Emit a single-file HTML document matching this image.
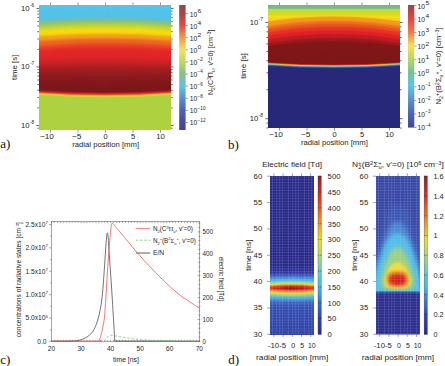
<!DOCTYPE html><html><head><meta charset="utf-8"><style>html,body{margin:0;padding:0;background:#fff;overflow:hidden}svg{display:block}text{font-family:"Liberation Sans",sans-serif}</style></head><body>
<svg width="445" height="366" viewBox="0 0 445 366">
<rect width="445" height="366" fill="#fff"/>
<defs><clipPath id="hm3"><rect x="39.0" y="5.0" width="132.00" height="125.00"/></clipPath></defs><g clip-path="url(#hm3)">
<rect x="39.0" y="5.0" width="132.00" height="125.00" fill="#54c4ea"/>
<path d="M38.0,8.00 Q105.0,3.00 172.0,8.00 V132.0 H38.0Z" fill="#54c4ea"/>
<path d="M38.0,8.50 Q105.0,3.50 172.0,8.50 V132.0 H38.0Z" fill="#54c4ea"/>
<path d="M38.0,9.00 Q105.0,4.00 172.0,9.00 V132.0 H38.0Z" fill="#54c4ea"/>
<path d="M38.0,9.50 Q105.0,4.50 172.0,9.50 V132.0 H38.0Z" fill="#54c4ea"/>
<path d="M38.0,10.00 Q105.0,5.00 172.0,10.00 V132.0 H38.0Z" fill="#54c4ea"/>
<path d="M38.0,10.50 Q105.0,5.50 172.0,10.50 V132.0 H38.0Z" fill="#53c3e9"/>
<path d="M38.0,11.00 Q105.0,6.00 172.0,11.00 V132.0 H38.0Z" fill="#53c3e9"/>
<path d="M38.0,11.50 Q105.0,6.50 172.0,11.50 V132.0 H38.0Z" fill="#53c3e9"/>
<path d="M38.0,12.00 Q105.0,7.00 172.0,12.00 V132.0 H38.0Z" fill="#53c3e9"/>
<path d="M38.0,12.50 Q105.0,7.50 172.0,12.50 V132.0 H38.0Z" fill="#53c3e9"/>
<path d="M38.0,13.00 Q105.0,8.00 172.0,13.00 V132.0 H38.0Z" fill="#53c3e9"/>
<path d="M38.0,13.50 Q105.0,8.50 172.0,13.50 V132.0 H38.0Z" fill="#53c3e9"/>
<path d="M38.0,14.00 Q105.0,9.00 172.0,14.00 V132.0 H38.0Z" fill="#53c3e9"/>
<path d="M38.0,14.50 Q105.0,9.50 172.0,14.50 V132.0 H38.0Z" fill="#53c3e9"/>
<path d="M38.0,15.00 Q105.0,10.00 172.0,15.00 V132.0 H38.0Z" fill="#53c3e9"/>
<path d="M38.0,15.50 Q105.0,10.50 172.0,15.50 V132.0 H38.0Z" fill="#53c3e9"/>
<path d="M38.0,16.00 Q105.0,11.00 172.0,16.00 V132.0 H38.0Z" fill="#52c2e8"/>
<path d="M38.0,16.50 Q105.0,11.50 172.0,16.50 V132.0 H38.0Z" fill="#52c2e8"/>
<path d="M38.0,17.00 Q105.0,12.00 172.0,17.00 V132.0 H38.0Z" fill="#52c2e8"/>
<path d="M38.0,17.50 Q105.0,12.50 172.0,17.50 V132.0 H38.0Z" fill="#52c2e8"/>
<path d="M38.0,18.00 Q105.0,13.00 172.0,18.00 V132.0 H38.0Z" fill="#52c2e8"/>
<path d="M38.0,18.50 Q105.0,13.50 172.0,18.50 V132.0 H38.0Z" fill="#53c2e6"/>
<path d="M38.0,19.00 Q105.0,14.00 172.0,19.00 V132.0 H38.0Z" fill="#5bc0d6"/>
<path d="M38.0,19.50 Q105.0,14.50 172.0,19.50 V132.0 H38.0Z" fill="#63bec7"/>
<path d="M38.0,20.00 Q105.0,15.00 172.0,20.00 V132.0 H38.0Z" fill="#68bfbd"/>
<path d="M38.0,20.50 Q105.0,15.50 172.0,20.50 V132.0 H38.0Z" fill="#6ebfb3"/>
<path d="M38.0,21.00 Q105.0,16.00 172.0,21.00 V132.0 H38.0Z" fill="#73c0a9"/>
<path d="M38.0,21.50 Q105.0,16.50 172.0,21.50 V132.0 H38.0Z" fill="#78c09f"/>
<path d="M38.0,22.00 Q105.0,17.00 172.0,22.00 V132.0 H38.0Z" fill="#7dc196"/>
<path d="M38.0,22.50 Q105.0,17.50 172.0,22.50 V132.0 H38.0Z" fill="#82c28c"/>
<path d="M38.0,23.00 Q105.0,18.00 172.0,23.00 V132.0 H38.0Z" fill="#87c382"/>
<path d="M38.0,23.50 Q105.0,18.50 172.0,23.50 V132.0 H38.0Z" fill="#8cc479"/>
<path d="M38.0,24.00 Q105.0,19.00 172.0,24.00 V132.0 H38.0Z" fill="#92c66f"/>
<path d="M38.0,24.50 Q105.0,19.50 172.0,24.50 V132.0 H38.0Z" fill="#99c866"/>
<path d="M38.0,25.00 Q105.0,20.00 172.0,25.00 V132.0 H38.0Z" fill="#9fca5c"/>
<path d="M38.0,25.50 Q105.0,20.50 172.0,25.50 V132.0 H38.0Z" fill="#a6cb53"/>
<path d="M38.0,26.00 Q105.0,21.00 172.0,26.00 V132.0 H38.0Z" fill="#adcd4b"/>
<path d="M38.0,26.50 Q105.0,21.50 172.0,26.50 V132.0 H38.0Z" fill="#b3cf43"/>
<path d="M38.0,27.00 Q105.0,22.00 172.0,27.00 V132.0 H38.0Z" fill="#bad13b"/>
<path d="M38.0,27.50 Q105.0,22.50 172.0,27.50 V132.0 H38.0Z" fill="#c1d334"/>
<path d="M38.0,28.00 Q105.0,23.00 172.0,28.00 V132.0 H38.0Z" fill="#c6d52e"/>
<path d="M38.0,28.50 Q105.0,23.50 172.0,28.50 V132.0 H38.0Z" fill="#ccd72a"/>
<path d="M38.0,29.00 Q105.0,24.00 172.0,29.00 V132.0 H38.0Z" fill="#d0d926"/>
<path d="M38.0,29.50 Q105.0,24.50 172.0,29.50 V132.0 H38.0Z" fill="#d6db22"/>
<path d="M38.0,30.00 Q105.0,25.00 172.0,30.00 V132.0 H38.0Z" fill="#dbdc1d"/>
<path d="M38.0,30.50 Q105.0,25.50 172.0,30.50 V132.0 H38.0Z" fill="#e2dc18"/>
<path d="M38.0,31.00 Q105.0,26.00 172.0,31.00 V132.0 H38.0Z" fill="#e9dc13"/>
<path d="M38.0,31.50 Q105.0,26.50 172.0,31.50 V132.0 H38.0Z" fill="#f0dc0e"/>
<path d="M38.0,32.00 Q105.0,27.00 172.0,32.00 V132.0 H38.0Z" fill="#f7dc09"/>
<path d="M38.0,32.50 Q105.0,27.50 172.0,32.50 V132.0 H38.0Z" fill="#f8db09"/>
<path d="M38.0,33.00 Q105.0,28.00 172.0,33.00 V132.0 H38.0Z" fill="#f8da0a"/>
<path d="M38.0,33.50 Q105.0,28.50 172.0,33.50 V132.0 H38.0Z" fill="#f8d90b"/>
<path d="M38.0,34.00 Q105.0,29.00 172.0,34.00 V132.0 H38.0Z" fill="#f8d80c"/>
<path d="M38.0,34.50 Q105.0,29.50 172.0,34.50 V132.0 H38.0Z" fill="#f8d40f"/>
<path d="M38.0,35.00 Q105.0,30.00 172.0,35.00 V132.0 H38.0Z" fill="#f8cc15"/>
<path d="M38.0,35.50 Q105.0,30.50 172.0,35.50 V132.0 H38.0Z" fill="#f7c319"/>
<path d="M38.0,36.00 Q105.0,31.00 172.0,36.00 V132.0 H38.0Z" fill="#f6b91b"/>
<path d="M38.0,36.50 Q105.0,31.50 172.0,36.50 V132.0 H38.0Z" fill="#f5af1e"/>
<path d="M38.0,37.00 Q105.0,32.00 172.0,37.00 V132.0 H38.0Z" fill="#f4a520"/>
<path d="M38.0,37.50 Q105.0,32.50 172.0,37.50 V132.0 H38.0Z" fill="#f4a220"/>
<path d="M38.0,38.00 Q105.0,33.00 172.0,38.00 V132.0 H38.0Z" fill="#f4a020"/>
<path d="M38.0,38.50 Q105.0,33.50 172.0,38.50 V132.0 H38.0Z" fill="#f39e20"/>
<path d="M38.0,39.00 Q105.0,34.00 172.0,39.00 V132.0 H38.0Z" fill="#f39c20"/>
<path d="M38.0,39.50 Q105.0,34.50 172.0,39.50 V132.0 H38.0Z" fill="#f39920"/>
<path d="M38.0,40.00 Q105.0,35.00 172.0,40.00 V132.0 H38.0Z" fill="#f28e20"/>
<path d="M38.0,40.50 Q105.0,35.50 172.0,40.50 V132.0 H38.0Z" fill="#f18421"/>
<path d="M38.0,41.00 Q105.0,36.00 172.0,41.00 V132.0 H38.0Z" fill="#f07b22"/>
<path d="M38.0,41.50 Q105.0,36.50 172.0,41.50 V132.0 H38.0Z" fill="#ef7323"/>
<path d="M38.0,42.00 Q105.0,37.00 172.0,42.00 V132.0 H38.0Z" fill="#ee6b24"/>
<path d="M38.0,42.50 Q105.0,37.50 172.0,42.50 V132.0 H38.0Z" fill="#ee6824"/>
<path d="M38.0,43.00 Q105.0,38.00 172.0,43.00 V132.0 H38.0Z" fill="#ed6724"/>
<path d="M38.0,43.50 Q105.0,38.50 172.0,43.50 V132.0 H38.0Z" fill="#ed6524"/>
<path d="M38.0,44.00 Q105.0,39.00 172.0,44.00 V132.0 H38.0Z" fill="#ed6324"/>
<path d="M38.0,44.50 Q105.0,39.50 172.0,44.50 V132.0 H38.0Z" fill="#ec6124"/>
<path d="M38.0,45.00 Q105.0,40.00 172.0,45.00 V132.0 H38.0Z" fill="#ec5d24"/>
<path d="M38.0,45.50 Q105.0,40.50 172.0,45.50 V132.0 H38.0Z" fill="#eb5425"/>
<path d="M38.0,46.00 Q105.0,41.00 172.0,46.00 V132.0 H38.0Z" fill="#ea4e26"/>
<path d="M38.0,46.50 Q105.0,41.50 172.0,46.50 V132.0 H38.0Z" fill="#e94b27"/>
<path d="M38.0,47.00 Q105.0,42.00 172.0,47.00 V132.0 H38.0Z" fill="#e94727"/>
<path d="M38.0,47.50 Q105.0,42.50 172.0,47.50 V132.0 H38.0Z" fill="#e94327"/>
<path d="M38.0,48.00 Q105.0,43.00 172.0,48.00 V132.0 H38.0Z" fill="#e84028"/>
<path d="M38.0,48.50 Q105.0,43.50 172.0,48.50 V132.0 H38.0Z" fill="#e83c28"/>
<path d="M38.0,49.00 Q105.0,44.00 172.0,49.00 V132.0 H38.0Z" fill="#e73828"/>
<path d="M38.0,49.50 Q105.0,44.50 172.0,49.50 V132.0 H38.0Z" fill="#e63528"/>
<path d="M38.0,50.00 Q105.0,45.00 172.0,50.00 V132.0 H38.0Z" fill="#e63128"/>
<path d="M38.0,50.50 Q105.0,45.50 172.0,50.50 V132.0 H38.0Z" fill="#e52e28"/>
<path d="M38.0,51.00 Q105.0,46.00 172.0,51.00 V132.0 H38.0Z" fill="#e42a28"/>
<path d="M38.0,51.50 Q105.0,46.50 172.0,51.50 V132.0 H38.0Z" fill="#e42828"/>
<path d="M38.0,52.00 Q105.0,47.00 172.0,52.00 V132.0 H38.0Z" fill="#e32828"/>
<path d="M38.0,52.50 Q105.0,47.50 172.0,52.50 V132.0 H38.0Z" fill="#e32828"/>
<path d="M38.0,53.00 Q105.0,48.00 172.0,53.00 V132.0 H38.0Z" fill="#e32828"/>
<path d="M38.0,53.50 Q105.0,48.50 172.0,53.50 V132.0 H38.0Z" fill="#e22729"/>
<path d="M38.0,54.00 Q105.0,49.00 172.0,54.00 V132.0 H38.0Z" fill="#e22729"/>
<path d="M38.0,54.50 Q105.0,49.50 172.0,54.50 V132.0 H38.0Z" fill="#e22729"/>
<path d="M38.0,55.00 Q105.0,50.00 172.0,55.00 V132.0 H38.0Z" fill="#e12729"/>
<path d="M38.0,55.50 Q105.0,50.50 172.0,55.50 V132.0 H38.0Z" fill="#e12729"/>
<path d="M38.0,56.00 Q105.0,51.00 172.0,56.00 V132.0 H38.0Z" fill="#e12729"/>
<path d="M38.0,56.50 Q105.0,51.50 172.0,56.50 V132.0 H38.0Z" fill="#e0262a"/>
<path d="M38.0,57.00 Q105.0,52.00 172.0,57.00 V132.0 H38.0Z" fill="#e0262a"/>
<path d="M38.0,57.50 Q105.0,52.50 172.0,57.50 V132.0 H38.0Z" fill="#e0262a"/>
<path d="M38.0,57.93 Q105.0,53.07 172.0,57.93 V132.0 H38.0Z" fill="#df262a"/>
<path d="M38.0,58.36 Q105.0,53.64 172.0,58.36 V132.0 H38.0Z" fill="#de262a"/>
<path d="M38.0,58.79 Q105.0,54.21 172.0,58.79 V132.0 H38.0Z" fill="#dc262a"/>
<path d="M38.0,59.22 Q105.0,54.78 172.0,59.22 V132.0 H38.0Z" fill="#da2629"/>
<path d="M38.0,59.65 Q105.0,55.35 172.0,59.65 V132.0 H38.0Z" fill="#d82529"/>
<path d="M38.0,60.08 Q105.0,55.92 172.0,60.08 V132.0 H38.0Z" fill="#d62528"/>
<path d="M38.0,60.51 Q105.0,56.49 172.0,60.51 V132.0 H38.0Z" fill="#d42528"/>
<path d="M38.0,60.94 Q105.0,57.06 172.0,60.94 V132.0 H38.0Z" fill="#d32528"/>
<path d="M38.0,61.37 Q105.0,57.63 172.0,61.37 V132.0 H38.0Z" fill="#d12528"/>
<path d="M38.0,61.80 Q105.0,58.20 172.0,61.80 V132.0 H38.0Z" fill="#cf2527"/>
<path d="M38.0,62.23 Q105.0,58.77 172.0,62.23 V132.0 H38.0Z" fill="#cd2427"/>
<path d="M38.0,62.66 Q105.0,59.34 172.0,62.66 V132.0 H38.0Z" fill="#cb2426"/>
<path d="M38.0,63.09 Q105.0,59.91 172.0,63.09 V132.0 H38.0Z" fill="#c92426"/>
<path d="M38.0,63.52 Q105.0,60.48 172.0,63.52 V132.0 H38.0Z" fill="#c72426"/>
<path d="M38.0,63.95 Q105.0,61.05 172.0,63.95 V132.0 H38.0Z" fill="#c42326"/>
<path d="M38.0,64.38 Q105.0,61.62 172.0,64.38 V132.0 H38.0Z" fill="#c12325"/>
<path d="M38.0,64.81 Q105.0,62.19 172.0,64.81 V132.0 H38.0Z" fill="#bf2325"/>
<path d="M38.0,65.24 Q105.0,62.76 172.0,65.24 V132.0 H38.0Z" fill="#bc2224"/>
<path d="M38.0,65.67 Q105.0,63.33 172.0,65.67 V132.0 H38.0Z" fill="#b92224"/>
<path d="M38.0,66.10 Q105.0,63.90 172.0,66.10 V132.0 H38.0Z" fill="#b72124"/>
<path d="M38.0,66.53 Q105.0,64.47 172.0,66.53 V132.0 H38.0Z" fill="#b42124"/>
<path d="M38.0,66.96 Q105.0,65.04 172.0,66.96 V132.0 H38.0Z" fill="#b12023"/>
<path d="M38.0,67.39 Q105.0,65.61 172.0,67.39 V132.0 H38.0Z" fill="#af2023"/>
<path d="M38.0,67.82 Q105.0,66.18 172.0,67.82 V132.0 H38.0Z" fill="#ac2022"/>
<path d="M38.0,68.25 Q105.0,66.75 172.0,68.25 V132.0 H38.0Z" fill="#a91f22"/>
<path d="M38.0,68.68 Q105.0,67.32 172.0,68.68 V132.0 H38.0Z" fill="#a71f22"/>
<path d="M38.0,69.11 Q105.0,67.89 172.0,69.11 V132.0 H38.0Z" fill="#a61f22"/>
<path d="M38.0,69.54 Q105.0,68.46 172.0,69.54 V132.0 H38.0Z" fill="#a41e21"/>
<path d="M38.0,69.97 Q105.0,69.03 172.0,69.97 V132.0 H38.0Z" fill="#a21e21"/>
<path d="M38.0,70.40 Q105.0,69.60 172.0,70.40 V132.0 H38.0Z" fill="#a11e21"/>
<path d="M38.0,70.83 Q105.0,70.17 172.0,70.83 V132.0 H38.0Z" fill="#9f1e21"/>
<path d="M38.0,71.26 Q105.0,70.74 172.0,71.26 V132.0 H38.0Z" fill="#9d1d20"/>
<path d="M38.0,71.69 Q105.0,71.31 172.0,71.69 V132.0 H38.0Z" fill="#9c1d20"/>
<path d="M38.0,72.12 Q105.0,71.88 172.0,72.12 V132.0 H38.0Z" fill="#9a1d20"/>
<path d="M38.0,72.55 Q105.0,72.45 172.0,72.55 V132.0 H38.0Z" fill="#991d20"/>
<path d="M38.0,72.98 Q105.0,73.02 172.0,72.98 V132.0 H38.0Z" fill="#971c1f"/>
<path d="M38.0,73.41 Q105.0,73.59 172.0,73.41 V132.0 H38.0Z" fill="#951c1f"/>
<path d="M38.0,73.84 Q105.0,74.16 172.0,73.84 V132.0 H38.0Z" fill="#941c1f"/>
<path d="M38.0,74.27 Q105.0,74.73 172.0,74.27 V132.0 H38.0Z" fill="#921c1f"/>
<path d="M38.0,74.70 Q105.0,75.30 172.0,74.70 V132.0 H38.0Z" fill="#901b1e"/>
<path d="M38.0,75.13 Q105.0,75.87 172.0,75.13 V132.0 H38.0Z" fill="#8f1b1e"/>
<path d="M38.0,75.56 Q105.0,76.44 172.0,75.56 V132.0 H38.0Z" fill="#8e1b1e"/>
<path d="M38.0,75.99 Q105.0,77.01 172.0,75.99 V132.0 H38.0Z" fill="#8d1b1e"/>
<path d="M38.0,76.42 Q105.0,77.58 172.0,76.42 V132.0 H38.0Z" fill="#8c1b1e"/>
<path d="M38.0,76.85 Q105.0,78.15 172.0,76.85 V132.0 H38.0Z" fill="#8b1b1e"/>
<path d="M38.0,77.28 Q105.0,78.72 172.0,77.28 V132.0 H38.0Z" fill="#8b1a1d"/>
<path d="M38.0,77.71 Q105.0,79.29 172.0,77.71 V132.0 H38.0Z" fill="#8a1a1d"/>
<path d="M38.0,78.14 Q105.0,79.86 172.0,78.14 V132.0 H38.0Z" fill="#891a1d"/>
<path d="M38.0,78.57 Q105.0,80.43 172.0,78.57 V132.0 H38.0Z" fill="#881a1d"/>
<path d="M38.0,79.00 Q105.0,81.00 172.0,79.00 V132.0 H38.0Z" fill="#881a1d"/>
<path d="M38.0,79.43 Q105.0,81.57 172.0,79.43 V132.0 H38.0Z" fill="#871a1d"/>
<path d="M38.0,79.86 Q105.0,82.14 172.0,79.86 V132.0 H38.0Z" fill="#861a1d"/>
<path d="M38.0,80.29 Q105.0,82.71 172.0,80.29 V132.0 H38.0Z" fill="#851a1d"/>
<path d="M38.0,80.72 Q105.0,83.28 172.0,80.72 V132.0 H38.0Z" fill="#85191c"/>
<path d="M38.0,81.15 Q105.0,83.85 172.0,81.15 V132.0 H38.0Z" fill="#84191c"/>
<path d="M38.0,81.58 Q105.0,84.42 172.0,81.58 V132.0 H38.0Z" fill="#83191c"/>
<path d="M38.0,82.01 Q105.0,84.99 172.0,82.01 V132.0 H38.0Z" fill="#82191c"/>
<path d="M38.0,82.44 Q105.0,85.56 172.0,82.44 V132.0 H38.0Z" fill="#82191c"/>
<path d="M38.0,82.87 Q105.0,86.13 172.0,82.87 V132.0 H38.0Z" fill="#81191c"/>
<path d="M38.0,83.30 Q105.0,86.70 172.0,83.30 V132.0 H38.0Z" fill="#80191c"/>
<path d="M38.0,83.73 Q105.0,87.27 172.0,83.73 V132.0 H38.0Z" fill="#7f191c"/>
<path d="M38.0,84.16 Q105.0,87.84 172.0,84.16 V132.0 H38.0Z" fill="#7f181b"/>
<path d="M38.0,84.59 Q105.0,88.41 172.0,84.59 V132.0 H38.0Z" fill="#7e181b"/>
<path d="M38.0,85.02 Q105.0,88.98 172.0,85.02 V132.0 H38.0Z" fill="#7d181b"/>
<path d="M38.0,85.45 Q105.0,89.55 172.0,85.45 V132.0 H38.0Z" fill="#7c181b"/>
<path d="M38.0,85.88 Q105.0,90.12 172.0,85.88 V132.0 H38.0Z" fill="#7c181b"/>
<path d="M38.0,86.31 Q105.0,90.69 172.0,86.31 V132.0 H38.0Z" fill="#7c181b"/>
<path d="M38.0,86.74 Q105.0,91.26 172.0,86.74 V132.0 H38.0Z" fill="#7c181b"/>
<path d="M38.0,87.17 Q105.0,91.83 172.0,87.17 V132.0 H38.0Z" fill="#7c181b"/>
<path d="M38.0,87.60 Q105.0,92.40 172.0,87.60 V132.0 H38.0Z" fill="#7c181b"/>
<path d="M38.0,88.10 Q105.0,92.90 172.0,88.10 V132.0 H38.0Z" fill="#7c181b"/>
<path d="M38.0,88.60 Q105.0,93.40 172.0,88.60 V132.0 H38.0Z" fill="#7c181b"/>
<path d="M38.0,89.10 Q105.0,93.90 172.0,89.10 V132.0 H38.0Z" fill="#7c181b"/>
<path d="M38.0,89.60 Q105.0,94.40 172.0,89.60 V132.0 H38.0Z" fill="#80181b"/>
<path d="M38.0,90.10 Q105.0,94.90 172.0,90.10 V132.0 H38.0Z" fill="#a61c1e"/>
<path d="M38.0,90.60 Q105.0,95.40 172.0,90.60 V132.0 H38.0Z" fill="#c92020"/>
<path d="M38.0,91.10 Q105.0,95.90 172.0,91.10 V132.0 H38.0Z" fill="#d82520"/>
<path d="M38.0,91.60 Q105.0,96.40 172.0,91.60 V132.0 H38.0Z" fill="#e72e20"/>
<path d="M38.0,92.10 Q105.0,96.90 172.0,92.10 V132.0 H38.0Z" fill="#ec5525"/>
<path d="M38.0,92.60 Q105.0,97.40 172.0,92.60 V132.0 H38.0Z" fill="#f1832a"/>
<path d="M38.0,93.10 Q105.0,97.90 172.0,93.10 V132.0 H38.0Z" fill="#f5c233"/>
<path d="M38.0,93.60 Q105.0,98.40 172.0,93.60 V132.0 H38.0Z" fill="#e6d637"/>
<path d="M38.0,94.10 Q105.0,98.90 172.0,94.10 V132.0 H38.0Z" fill="#cfd839"/>
<path d="M38.0,94.60 Q105.0,99.40 172.0,94.60 V132.0 H38.0Z" fill="#bdd53c"/>
<path d="M38.0,95.10 Q105.0,99.90 172.0,95.10 V132.0 H38.0Z" fill="#aed23f"/>
<path d="M38.0,95.60 Q105.0,100.40 172.0,95.60 V132.0 H38.0Z" fill="#aed23f"/>
<path d="M38.0,96.10 Q105.0,100.90 172.0,96.10 V132.0 H38.0Z" fill="#aed23f"/>
</g>
<line x1="37.40" y1="128.18" x2="39.00" y2="128.18" stroke="#333" stroke-width="0.75" />
<line x1="171.00" y1="128.18" x2="172.60" y2="128.18" stroke="#333" stroke-width="0.75" />
<line x1="36.40" y1="125.50" x2="39.00" y2="125.50" stroke="#333" stroke-width="0.75" />
<line x1="171.00" y1="125.50" x2="173.60" y2="125.50" stroke="#333" stroke-width="0.75" />
<line x1="37.40" y1="107.87" x2="39.00" y2="107.87" stroke="#333" stroke-width="0.75" />
<line x1="171.00" y1="107.87" x2="172.60" y2="107.87" stroke="#333" stroke-width="0.75" />
<line x1="37.40" y1="97.56" x2="39.00" y2="97.56" stroke="#333" stroke-width="0.75" />
<line x1="171.00" y1="97.56" x2="172.60" y2="97.56" stroke="#333" stroke-width="0.75" />
<line x1="37.40" y1="90.25" x2="39.00" y2="90.25" stroke="#333" stroke-width="0.75" />
<line x1="171.00" y1="90.25" x2="172.60" y2="90.25" stroke="#333" stroke-width="0.75" />
<line x1="37.40" y1="84.58" x2="39.00" y2="84.58" stroke="#333" stroke-width="0.75" />
<line x1="171.00" y1="84.58" x2="172.60" y2="84.58" stroke="#333" stroke-width="0.75" />
<line x1="37.40" y1="79.94" x2="39.00" y2="79.94" stroke="#333" stroke-width="0.75" />
<line x1="171.00" y1="79.94" x2="172.60" y2="79.94" stroke="#333" stroke-width="0.75" />
<line x1="37.40" y1="76.02" x2="39.00" y2="76.02" stroke="#333" stroke-width="0.75" />
<line x1="171.00" y1="76.02" x2="172.60" y2="76.02" stroke="#333" stroke-width="0.75" />
<line x1="37.40" y1="72.62" x2="39.00" y2="72.62" stroke="#333" stroke-width="0.75" />
<line x1="171.00" y1="72.62" x2="172.60" y2="72.62" stroke="#333" stroke-width="0.75" />
<line x1="37.40" y1="69.63" x2="39.00" y2="69.63" stroke="#333" stroke-width="0.75" />
<line x1="171.00" y1="69.63" x2="172.60" y2="69.63" stroke="#333" stroke-width="0.75" />
<line x1="36.40" y1="66.95" x2="39.00" y2="66.95" stroke="#333" stroke-width="0.75" />
<line x1="171.00" y1="66.95" x2="173.60" y2="66.95" stroke="#333" stroke-width="0.75" />
<line x1="37.40" y1="49.32" x2="39.00" y2="49.32" stroke="#333" stroke-width="0.75" />
<line x1="171.00" y1="49.32" x2="172.60" y2="49.32" stroke="#333" stroke-width="0.75" />
<line x1="37.40" y1="39.01" x2="39.00" y2="39.01" stroke="#333" stroke-width="0.75" />
<line x1="171.00" y1="39.01" x2="172.60" y2="39.01" stroke="#333" stroke-width="0.75" />
<line x1="37.40" y1="31.70" x2="39.00" y2="31.70" stroke="#333" stroke-width="0.75" />
<line x1="171.00" y1="31.70" x2="172.60" y2="31.70" stroke="#333" stroke-width="0.75" />
<line x1="37.40" y1="26.03" x2="39.00" y2="26.03" stroke="#333" stroke-width="0.75" />
<line x1="171.00" y1="26.03" x2="172.60" y2="26.03" stroke="#333" stroke-width="0.75" />
<line x1="37.40" y1="21.39" x2="39.00" y2="21.39" stroke="#333" stroke-width="0.75" />
<line x1="171.00" y1="21.39" x2="172.60" y2="21.39" stroke="#333" stroke-width="0.75" />
<line x1="37.40" y1="17.47" x2="39.00" y2="17.47" stroke="#333" stroke-width="0.75" />
<line x1="171.00" y1="17.47" x2="172.60" y2="17.47" stroke="#333" stroke-width="0.75" />
<line x1="37.40" y1="14.07" x2="39.00" y2="14.07" stroke="#333" stroke-width="0.75" />
<line x1="171.00" y1="14.07" x2="172.60" y2="14.07" stroke="#333" stroke-width="0.75" />
<line x1="37.40" y1="11.08" x2="39.00" y2="11.08" stroke="#333" stroke-width="0.75" />
<line x1="171.00" y1="11.08" x2="172.60" y2="11.08" stroke="#333" stroke-width="0.75" />
<line x1="36.40" y1="8.40" x2="39.00" y2="8.40" stroke="#333" stroke-width="0.75" />
<line x1="171.00" y1="8.40" x2="173.60" y2="8.40" stroke="#333" stroke-width="0.75" />
<text x="20.9" y="10.80" font-size="7.2" fill="#1e1e1e" textLength="8.6" lengthAdjust="spacingAndGlyphs">10</text>
<text x="29.9" y="6.60" font-size="5.4" fill="#1e1e1e" textLength="4.3" lengthAdjust="spacingAndGlyphs">-6</text>
<text x="20.9" y="69.35" font-size="7.2" fill="#1e1e1e" textLength="8.6" lengthAdjust="spacingAndGlyphs">10</text>
<text x="29.9" y="65.15" font-size="5.4" fill="#1e1e1e" textLength="4.3" lengthAdjust="spacingAndGlyphs">-7</text>
<text x="20.9" y="127.90" font-size="7.2" fill="#1e1e1e" textLength="8.6" lengthAdjust="spacingAndGlyphs">10</text>
<text x="29.9" y="123.70" font-size="5.4" fill="#1e1e1e" textLength="4.3" lengthAdjust="spacingAndGlyphs">-8</text>
<line x1="50.50" y1="2.40" x2="50.50" y2="5.00" stroke="#444" stroke-width="0.55" />
<line x1="50.50" y1="130.00" x2="50.50" y2="132.60" stroke="#444" stroke-width="0.55" />
<text x="54.00" y="139.10" font-size="7.5" text-anchor="end" fill="#1e1e1e" textLength="14.10" lengthAdjust="spacingAndGlyphs" >−10</text>
<line x1="78.00" y1="2.40" x2="78.00" y2="5.00" stroke="#444" stroke-width="0.55" />
<line x1="78.00" y1="130.00" x2="78.00" y2="132.60" stroke="#444" stroke-width="0.55" />
<text x="81.50" y="139.10" font-size="7.5" text-anchor="end" fill="#1e1e1e" textLength="9.60" lengthAdjust="spacingAndGlyphs" >−5</text>
<line x1="105.50" y1="2.40" x2="105.50" y2="5.00" stroke="#444" stroke-width="0.55" />
<line x1="105.50" y1="130.00" x2="105.50" y2="132.60" stroke="#444" stroke-width="0.55" />
<text x="105.50" y="139.10" font-size="7.5" text-anchor="middle" fill="#1e1e1e" >0</text>
<line x1="133.00" y1="2.40" x2="133.00" y2="5.00" stroke="#444" stroke-width="0.55" />
<line x1="133.00" y1="130.00" x2="133.00" y2="132.60" stroke="#444" stroke-width="0.55" />
<text x="133.00" y="139.10" font-size="7.5" text-anchor="middle" fill="#1e1e1e" >5</text>
<line x1="160.50" y1="2.40" x2="160.50" y2="5.00" stroke="#444" stroke-width="0.55" />
<line x1="160.50" y1="130.00" x2="160.50" y2="132.60" stroke="#444" stroke-width="0.55" />
<text x="160.50" y="139.10" font-size="7.5" text-anchor="middle" fill="#1e1e1e" textLength="8.60" lengthAdjust="spacingAndGlyphs" >10</text>
<text x="72.20" y="147.40" font-size="7.3" text-anchor="start" fill="#1e1e1e" textLength="66.90" lengthAdjust="spacingAndGlyphs" >radial position [mm]</text>
<text x="17.30" y="67.25" font-size="7.3" text-anchor="middle" fill="#1e1e1e" textLength="25.30" lengthAdjust="spacingAndGlyphs" transform="rotate(-90 17.30 67.25)" >time [s]</text>
<text x="0.30" y="148.10" font-size="13" text-anchor="start" fill="#111" style='font-family:"Liberation Serif", serif' >a)</text>
<defs><linearGradient id="cbA" x1="0" y1="0" x2="0" y2="1"><stop offset="0.000" stop-color="#8f4a4a"/><stop offset="0.064" stop-color="#a04646"/><stop offset="0.158" stop-color="#e04848"/><stop offset="0.262" stop-color="#f09a48"/><stop offset="0.360" stop-color="#f2e25a"/><stop offset="0.453" stop-color="#c4d462"/><stop offset="0.548" stop-color="#86c184"/><stop offset="0.650" stop-color="#5ec3e4"/><stop offset="0.746" stop-color="#5a8fcc"/><stop offset="0.842" stop-color="#4d66ae"/><stop offset="0.938" stop-color="#454e98"/><stop offset="1.000" stop-color="#414691"/></linearGradient></defs>
<rect x="179.2" y="5" width="6.4" height="125" fill="url(#cbA)"/>
<line x1="185.60" y1="13.50" x2="187.90" y2="13.50" stroke="#444" stroke-width="0.55" />
<text x="189.8" y="16.50" font-size="7.4" fill="#1e1e1e" textLength="7.5" lengthAdjust="spacingAndGlyphs">10</text>
<text x="197.6" y="12.90" font-size="5.0" fill="#1e1e1e" textLength="3.70" lengthAdjust="spacingAndGlyphs">6</text>
<line x1="185.60" y1="25.61" x2="187.90" y2="25.61" stroke="#444" stroke-width="0.55" />
<text x="189.8" y="28.61" font-size="7.4" fill="#1e1e1e" textLength="7.5" lengthAdjust="spacingAndGlyphs">10</text>
<text x="197.6" y="25.01" font-size="5.0" fill="#1e1e1e" textLength="3.70" lengthAdjust="spacingAndGlyphs">4</text>
<line x1="185.60" y1="37.72" x2="187.90" y2="37.72" stroke="#444" stroke-width="0.55" />
<text x="189.8" y="40.72" font-size="7.4" fill="#1e1e1e" textLength="7.5" lengthAdjust="spacingAndGlyphs">10</text>
<text x="197.6" y="37.12" font-size="5.0" fill="#1e1e1e" textLength="3.70" lengthAdjust="spacingAndGlyphs">2</text>
<line x1="185.60" y1="49.83" x2="187.90" y2="49.83" stroke="#444" stroke-width="0.55" />
<text x="189.8" y="52.83" font-size="7.4" fill="#1e1e1e" textLength="7.5" lengthAdjust="spacingAndGlyphs">10</text>
<text x="197.6" y="49.23" font-size="5.0" fill="#1e1e1e" textLength="3.70" lengthAdjust="spacingAndGlyphs">0</text>
<line x1="185.60" y1="61.94" x2="187.90" y2="61.94" stroke="#444" stroke-width="0.55" />
<text x="189.8" y="64.94" font-size="7.4" fill="#1e1e1e" textLength="7.5" lengthAdjust="spacingAndGlyphs">10</text>
<text x="197.6" y="61.34" font-size="5.0" fill="#1e1e1e" textLength="5.20" lengthAdjust="spacingAndGlyphs">−2</text>
<line x1="185.60" y1="74.05" x2="187.90" y2="74.05" stroke="#444" stroke-width="0.55" />
<text x="189.8" y="77.05" font-size="7.4" fill="#1e1e1e" textLength="7.5" lengthAdjust="spacingAndGlyphs">10</text>
<text x="197.6" y="73.45" font-size="5.0" fill="#1e1e1e" textLength="5.20" lengthAdjust="spacingAndGlyphs">−4</text>
<line x1="185.60" y1="86.16" x2="187.90" y2="86.16" stroke="#444" stroke-width="0.55" />
<text x="189.8" y="89.16" font-size="7.4" fill="#1e1e1e" textLength="7.5" lengthAdjust="spacingAndGlyphs">10</text>
<text x="197.6" y="85.56" font-size="5.0" fill="#1e1e1e" textLength="5.20" lengthAdjust="spacingAndGlyphs">−6</text>
<line x1="185.60" y1="98.27" x2="187.90" y2="98.27" stroke="#444" stroke-width="0.55" />
<text x="189.8" y="101.27" font-size="7.4" fill="#1e1e1e" textLength="7.5" lengthAdjust="spacingAndGlyphs">10</text>
<text x="197.6" y="97.67" font-size="5.0" fill="#1e1e1e" textLength="5.20" lengthAdjust="spacingAndGlyphs">−8</text>
<line x1="185.60" y1="110.38" x2="187.90" y2="110.38" stroke="#444" stroke-width="0.55" />
<text x="189.8" y="113.38" font-size="7.4" fill="#1e1e1e" textLength="7.5" lengthAdjust="spacingAndGlyphs">10</text>
<text x="197.6" y="109.78" font-size="5.0" fill="#1e1e1e" textLength="8.00" lengthAdjust="spacingAndGlyphs">−10</text>
<line x1="185.60" y1="122.49" x2="187.90" y2="122.49" stroke="#444" stroke-width="0.55" />
<text x="189.8" y="125.49" font-size="7.4" fill="#1e1e1e" textLength="7.5" lengthAdjust="spacingAndGlyphs">10</text>
<text x="197.6" y="121.89" font-size="5.0" fill="#1e1e1e" textLength="8.00" lengthAdjust="spacingAndGlyphs">−12</text>
<text x="213.2" y="62.3" font-size="7.0" fill="#1e1e1e" text-anchor="middle" transform="rotate(-90 213.2 62.3)" textLength="65.4" lengthAdjust="spacingAndGlyphs">N<tspan font-size="4.8" dy="1.5">2</tspan><tspan dy="-1.5">(C</tspan><tspan font-size="4.8" dy="-2.6">3</tspan><tspan dy="2.6">Π</tspan><tspan font-size="4.8" dy="1.5">u</tspan><tspan dy="-1.5">, v'=0) [cm</tspan><tspan font-size="4.8" dy="-2.6">−3</tspan><tspan dy="2.6">]</tspan></text>
<defs><clipPath id="hm290"><rect x="268.0" y="5.0" width="132.00" height="123.00"/></clipPath></defs><g clip-path="url(#hm290)">
<rect x="268.0" y="5.0" width="132.00" height="123.00" fill="#68b898"/>
<path d="M267.0,5.50 Q334.0,5.50 401.0,5.50 V130.0 H267.0Z" fill="#6eba8e"/>
<path d="M267.0,6.00 Q334.0,6.00 401.0,6.00 V130.0 H267.0Z" fill="#72bb87"/>
<path d="M267.0,6.50 Q334.0,6.50 401.0,6.50 V130.0 H267.0Z" fill="#75bc83"/>
<path d="M267.0,7.00 Q334.0,7.00 401.0,7.00 V130.0 H267.0Z" fill="#77bd80"/>
<path d="M267.0,7.50 Q334.0,7.50 401.0,7.50 V130.0 H267.0Z" fill="#79be7e"/>
<path d="M267.0,8.00 Q334.0,8.00 401.0,8.00 V130.0 H267.0Z" fill="#7bbf7c"/>
<path d="M267.0,8.50 Q334.0,8.50 401.0,8.50 V130.0 H267.0Z" fill="#8fc767"/>
<path d="M267.0,9.00 Q334.0,9.00 401.0,9.00 V130.0 H267.0Z" fill="#c8da30"/>
<path d="M267.0,9.50 Q334.0,9.50 401.0,9.50 V130.0 H267.0Z" fill="#c9da2f"/>
<path d="M267.0,10.00 Q334.0,10.00 401.0,10.00 V130.0 H267.0Z" fill="#cada2e"/>
<path d="M267.0,10.50 Q334.0,10.50 401.0,10.50 V130.0 H267.0Z" fill="#cbdb2c"/>
<path d="M267.0,11.00 Q334.0,11.00 401.0,11.00 V130.0 H267.0Z" fill="#ccdb2b"/>
<path d="M267.0,11.50 Q334.0,11.50 401.0,11.50 V130.0 H267.0Z" fill="#cddb2a"/>
<path d="M267.0,12.00 Q334.0,12.00 401.0,12.00 V130.0 H267.0Z" fill="#cedb29"/>
<path d="M267.0,12.50 Q334.0,12.50 401.0,12.50 V130.0 H267.0Z" fill="#cfdb28"/>
<path d="M267.0,13.00 Q334.0,13.00 401.0,13.00 V130.0 H267.0Z" fill="#d0db27"/>
<path d="M267.0,13.50 Q334.0,13.50 401.0,13.50 V130.0 H267.0Z" fill="#d1db26"/>
<path d="M267.0,14.00 Q334.0,14.00 401.0,14.00 V130.0 H267.0Z" fill="#d2dc24"/>
<path d="M267.0,14.50 Q334.0,14.50 401.0,14.50 V130.0 H267.0Z" fill="#d3dc23"/>
<path d="M267.0,15.00 Q334.0,15.00 401.0,15.00 V130.0 H267.0Z" fill="#d4dc22"/>
<path d="M267.0,15.50 Q334.0,15.50 401.0,15.50 V130.0 H267.0Z" fill="#f6db18"/>
<path d="M267.0,18.50 Q334.0,13.50 401.0,18.50 V130.0 H267.0Z" fill="#f6d118"/>
<path d="M267.0,21.50 Q334.0,11.50 401.0,21.50 V130.0 H267.0Z" fill="#f5a01c"/>
<path d="M267.0,22.50 Q334.0,11.50 401.0,22.50 V130.0 H267.0Z" fill="#f59e1d"/>
<path d="M267.0,23.00 Q334.0,12.00 401.0,23.00 V130.0 H267.0Z" fill="#f49d1d"/>
<path d="M267.0,23.50 Q334.0,12.50 401.0,23.50 V130.0 H267.0Z" fill="#f49b1e"/>
<path d="M267.0,24.00 Q334.0,13.00 401.0,24.00 V130.0 H267.0Z" fill="#f49a1e"/>
<path d="M267.0,24.50 Q334.0,13.50 401.0,24.50 V130.0 H267.0Z" fill="#f4981f"/>
<path d="M267.0,25.00 Q334.0,14.00 401.0,25.00 V130.0 H267.0Z" fill="#f3961f"/>
<path d="M267.0,25.50 Q334.0,14.50 401.0,25.50 V130.0 H267.0Z" fill="#f39520"/>
<path d="M267.0,26.00 Q334.0,15.00 401.0,26.00 V130.0 H267.0Z" fill="#f28b20"/>
<path d="M267.0,26.50 Q334.0,15.50 401.0,26.50 V130.0 H267.0Z" fill="#f07a20"/>
<path d="M267.0,27.00 Q334.0,16.00 401.0,27.00 V130.0 H267.0Z" fill="#ef7621"/>
<path d="M267.0,27.50 Q334.0,16.50 401.0,27.50 V130.0 H267.0Z" fill="#ef7321"/>
<path d="M267.0,28.00 Q334.0,17.00 401.0,28.00 V130.0 H267.0Z" fill="#ee6f22"/>
<path d="M267.0,28.50 Q334.0,17.50 401.0,28.50 V130.0 H267.0Z" fill="#ee6b22"/>
<path d="M267.0,29.00 Q334.0,18.00 401.0,29.00 V130.0 H267.0Z" fill="#eb6023"/>
<path d="M267.0,29.50 Q334.0,18.50 401.0,29.50 V130.0 H267.0Z" fill="#ea5924"/>
<path d="M267.0,30.00 Q334.0,19.00 401.0,30.00 V130.0 H267.0Z" fill="#e95625"/>
<path d="M267.0,30.50 Q334.0,19.50 401.0,30.50 V130.0 H267.0Z" fill="#e95325"/>
<path d="M267.0,31.00 Q334.0,20.00 401.0,31.00 V130.0 H267.0Z" fill="#e95125"/>
<path d="M267.0,31.50 Q334.0,20.50 401.0,31.50 V130.0 H267.0Z" fill="#e84e26"/>
<path d="M267.0,32.00 Q334.0,21.00 401.0,32.00 V130.0 H267.0Z" fill="#e84826"/>
<path d="M267.0,32.50 Q334.0,21.50 401.0,32.50 V130.0 H267.0Z" fill="#e63a28"/>
<path d="M267.0,33.00 Q334.0,22.00 401.0,33.00 V130.0 H267.0Z" fill="#e63528"/>
<path d="M267.0,33.50 Q334.0,22.50 401.0,33.50 V130.0 H267.0Z" fill="#e63528"/>
<path d="M267.0,34.00 Q334.0,23.00 401.0,34.00 V130.0 H267.0Z" fill="#e63428"/>
<path d="M267.0,34.50 Q334.0,23.50 401.0,34.50 V130.0 H267.0Z" fill="#e63328"/>
<path d="M267.0,35.00 Q334.0,24.00 401.0,35.00 V130.0 H267.0Z" fill="#e63228"/>
<path d="M267.0,35.50 Q334.0,24.50 401.0,35.50 V130.0 H267.0Z" fill="#e52d28"/>
<path d="M267.0,36.00 Q334.0,25.00 401.0,36.00 V130.0 H267.0Z" fill="#e22328"/>
<path d="M267.0,36.50 Q334.0,25.50 401.0,36.50 V130.0 H267.0Z" fill="#e22228"/>
<path d="M267.0,37.00 Q334.0,26.00 401.0,37.00 V130.0 H267.0Z" fill="#e12227"/>
<path d="M267.0,37.50 Q334.0,26.50 401.0,37.50 V130.0 H267.0Z" fill="#e12227"/>
<path d="M267.0,38.00 Q334.0,27.00 401.0,38.00 V130.0 H267.0Z" fill="#e12227"/>
<path d="M267.0,38.50 Q334.0,27.50 401.0,38.50 V130.0 H267.0Z" fill="#e02226"/>
<path d="M267.0,39.00 Q334.0,28.00 401.0,39.00 V130.0 H267.0Z" fill="#da2126"/>
<path d="M267.0,39.50 Q334.0,28.50 401.0,39.50 V130.0 H267.0Z" fill="#c61f24"/>
<path d="M267.0,40.00 Q334.0,29.00 401.0,40.00 V130.0 H267.0Z" fill="#bf1e24"/>
<path d="M267.0,40.50 Q334.0,29.50 401.0,40.50 V130.0 H267.0Z" fill="#be1e24"/>
<path d="M267.0,41.00 Q334.0,30.00 401.0,41.00 V130.0 H267.0Z" fill="#bd1e24"/>
<path d="M267.0,41.50 Q334.0,30.50 401.0,41.50 V130.0 H267.0Z" fill="#bb1e24"/>
<path d="M267.0,42.00 Q334.0,31.00 401.0,42.00 V130.0 H267.0Z" fill="#ba1e24"/>
<path d="M267.0,42.50 Q334.0,31.50 401.0,42.50 V130.0 H267.0Z" fill="#b91e24"/>
<path d="M267.0,43.00 Q334.0,32.00 401.0,43.00 V130.0 H267.0Z" fill="#b41d23"/>
<path d="M267.0,43.50 Q334.0,32.50 401.0,43.50 V130.0 H267.0Z" fill="#a41b21"/>
<path d="M267.0,44.00 Q334.0,33.00 401.0,44.00 V130.0 H267.0Z" fill="#9e1a20"/>
<path d="M267.0,44.50 Q334.0,33.50 401.0,44.50 V130.0 H267.0Z" fill="#9c1a1f"/>
<path d="M267.0,45.00 Q334.0,34.00 401.0,45.00 V130.0 H267.0Z" fill="#9a1a1f"/>
<path d="M267.0,45.50 Q334.0,34.50 401.0,45.50 V130.0 H267.0Z" fill="#971a1f"/>
<path d="M267.0,45.80 Q334.0,35.20 401.0,45.80 V130.0 H267.0Z" fill="#951a1e"/>
<path d="M267.0,46.11 Q334.0,35.89 401.0,46.11 V130.0 H267.0Z" fill="#901a1c"/>
<path d="M267.0,46.41 Q334.0,36.59 401.0,46.41 V130.0 H267.0Z" fill="#86181a"/>
<path d="M267.0,46.71 Q334.0,37.29 401.0,46.71 V130.0 H267.0Z" fill="#821818"/>
<path d="M267.0,47.01 Q334.0,37.99 401.0,47.01 V130.0 H267.0Z" fill="#821818"/>
<path d="M267.0,47.31 Q334.0,38.69 401.0,47.31 V130.0 H267.0Z" fill="#821818"/>
<path d="M267.0,47.62 Q334.0,39.38 401.0,47.62 V130.0 H267.0Z" fill="#821818"/>
<path d="M267.0,47.92 Q334.0,40.08 401.0,47.92 V130.0 H267.0Z" fill="#811818"/>
<path d="M267.0,48.22 Q334.0,40.78 401.0,48.22 V130.0 H267.0Z" fill="#811818"/>
<path d="M267.0,48.52 Q334.0,41.48 401.0,48.52 V130.0 H267.0Z" fill="#811818"/>
<path d="M267.0,48.83 Q334.0,42.17 401.0,48.83 V130.0 H267.0Z" fill="#811818"/>
<path d="M267.0,49.13 Q334.0,42.87 401.0,49.13 V130.0 H267.0Z" fill="#811818"/>
<path d="M267.0,49.43 Q334.0,43.57 401.0,49.43 V130.0 H267.0Z" fill="#811818"/>
<path d="M267.0,49.73 Q334.0,44.27 401.0,49.73 V130.0 H267.0Z" fill="#811818"/>
<path d="M267.0,50.04 Q334.0,44.96 401.0,50.04 V130.0 H267.0Z" fill="#811819"/>
<path d="M267.0,50.34 Q334.0,45.66 401.0,50.34 V130.0 H267.0Z" fill="#811819"/>
<path d="M267.0,50.64 Q334.0,46.36 401.0,50.64 V130.0 H267.0Z" fill="#801819"/>
<path d="M267.0,50.95 Q334.0,47.05 401.0,50.95 V130.0 H267.0Z" fill="#801819"/>
<path d="M267.0,51.25 Q334.0,47.75 401.0,51.25 V130.0 H267.0Z" fill="#801819"/>
<path d="M267.0,51.55 Q334.0,48.45 401.0,51.55 V130.0 H267.0Z" fill="#801819"/>
<path d="M267.0,51.85 Q334.0,49.15 401.0,51.85 V130.0 H267.0Z" fill="#801819"/>
<path d="M267.0,52.16 Q334.0,49.84 401.0,52.16 V130.0 H267.0Z" fill="#801819"/>
<path d="M267.0,52.46 Q334.0,50.54 401.0,52.46 V130.0 H267.0Z" fill="#801819"/>
<path d="M267.0,52.76 Q334.0,51.24 401.0,52.76 V130.0 H267.0Z" fill="#801819"/>
<path d="M267.0,53.06 Q334.0,51.94 401.0,53.06 V130.0 H267.0Z" fill="#801819"/>
<path d="M267.0,53.37 Q334.0,52.63 401.0,53.37 V130.0 H267.0Z" fill="#7f1819"/>
<path d="M267.0,53.67 Q334.0,53.33 401.0,53.67 V130.0 H267.0Z" fill="#7f1819"/>
<path d="M267.0,53.97 Q334.0,54.03 401.0,53.97 V130.0 H267.0Z" fill="#7f1819"/>
<path d="M267.0,54.27 Q334.0,54.73 401.0,54.27 V130.0 H267.0Z" fill="#7f1819"/>
<path d="M267.0,54.58 Q334.0,55.42 401.0,54.58 V130.0 H267.0Z" fill="#7f1819"/>
<path d="M267.0,54.88 Q334.0,56.12 401.0,54.88 V130.0 H267.0Z" fill="#7f1819"/>
<path d="M267.0,55.18 Q334.0,56.82 401.0,55.18 V130.0 H267.0Z" fill="#7f1819"/>
<path d="M267.0,55.48 Q334.0,57.52 401.0,55.48 V130.0 H267.0Z" fill="#7f1819"/>
<path d="M267.0,55.78 Q334.0,58.22 401.0,55.78 V130.0 H267.0Z" fill="#7f1819"/>
<path d="M267.0,56.09 Q334.0,58.91 401.0,56.09 V130.0 H267.0Z" fill="#7e1819"/>
<path d="M267.0,56.39 Q334.0,59.61 401.0,56.39 V130.0 H267.0Z" fill="#7e1819"/>
<path d="M267.0,56.69 Q334.0,60.31 401.0,56.69 V130.0 H267.0Z" fill="#7e1819"/>
<path d="M267.0,56.99 Q334.0,61.01 401.0,56.99 V130.0 H267.0Z" fill="#7e181a"/>
<path d="M267.0,57.30 Q334.0,61.70 401.0,57.30 V130.0 H267.0Z" fill="#7e181a"/>
<path d="M267.0,57.60 Q334.0,62.40 401.0,57.60 V130.0 H267.0Z" fill="#7e181a"/>
<path d="M267.0,58.10 Q334.0,62.90 401.0,58.10 V130.0 H267.0Z" fill="#7e181a"/>
<path d="M267.0,58.60 Q334.0,63.40 401.0,58.60 V130.0 H267.0Z" fill="#7e181a"/>
<path d="M267.0,59.10 Q334.0,63.90 401.0,59.10 V130.0 H267.0Z" fill="#7e181a"/>
<path d="M267.0,59.60 Q334.0,64.40 401.0,59.60 V130.0 H267.0Z" fill="#7d181a"/>
<path d="M267.0,60.10 Q334.0,64.90 401.0,60.10 V130.0 H267.0Z" fill="#7d181a"/>
<path d="M267.0,60.60 Q334.0,65.40 401.0,60.60 V130.0 H267.0Z" fill="#7d181a"/>
<path d="M267.0,61.10 Q334.0,65.90 401.0,61.10 V130.0 H267.0Z" fill="#7d181a"/>
<path d="M267.0,61.60 Q334.0,66.40 401.0,61.60 V130.0 H267.0Z" fill="#7d181a"/>
<path d="M267.0,62.10 Q334.0,66.90 401.0,62.10 V130.0 H267.0Z" fill="#aa211e"/>
<path d="M267.0,62.60 Q334.0,67.40 401.0,62.60 V130.0 H267.0Z" fill="#dd4a27"/>
<path d="M267.0,63.10 Q334.0,67.90 401.0,63.10 V130.0 H267.0Z" fill="#efb235"/>
<path d="M267.0,63.60 Q334.0,68.40 401.0,63.60 V130.0 H267.0Z" fill="#b0ca83"/>
<path d="M267.0,64.10 Q334.0,68.90 401.0,64.10 V130.0 H267.0Z" fill="#56badd"/>
<path d="M267.0,64.60 Q334.0,69.40 401.0,64.60 V130.0 H267.0Z" fill="#437abf"/>
<path d="M267.0,65.10 Q334.0,69.90 401.0,65.10 V130.0 H267.0Z" fill="#364ea2"/>
<path d="M267.0,65.60 Q334.0,70.40 401.0,65.60 V130.0 H267.0Z" fill="#2c3488"/>
<path d="M267.0,66.10 Q334.0,70.90 401.0,66.10 V130.0 H267.0Z" fill="#28287a"/>
<path d="M267.0,66.60 Q334.0,71.40 401.0,66.60 V130.0 H267.0Z" fill="#28287a"/>
</g>
<line x1="266.40" y1="128.02" x2="268.00" y2="128.02" stroke="#333" stroke-width="0.75" />
<line x1="400.00" y1="128.02" x2="401.60" y2="128.02" stroke="#333" stroke-width="0.75" />
<line x1="266.40" y1="123.10" x2="268.00" y2="123.10" stroke="#333" stroke-width="0.75" />
<line x1="400.00" y1="123.10" x2="401.60" y2="123.10" stroke="#333" stroke-width="0.75" />
<line x1="265.40" y1="118.70" x2="268.00" y2="118.70" stroke="#333" stroke-width="0.75" />
<line x1="400.00" y1="118.70" x2="402.60" y2="118.70" stroke="#333" stroke-width="0.75" />
<line x1="266.40" y1="89.74" x2="268.00" y2="89.74" stroke="#333" stroke-width="0.75" />
<line x1="400.00" y1="89.74" x2="401.60" y2="89.74" stroke="#333" stroke-width="0.75" />
<line x1="266.40" y1="72.80" x2="268.00" y2="72.80" stroke="#333" stroke-width="0.75" />
<line x1="400.00" y1="72.80" x2="401.60" y2="72.80" stroke="#333" stroke-width="0.75" />
<line x1="266.40" y1="60.78" x2="268.00" y2="60.78" stroke="#333" stroke-width="0.75" />
<line x1="400.00" y1="60.78" x2="401.60" y2="60.78" stroke="#333" stroke-width="0.75" />
<line x1="266.40" y1="51.46" x2="268.00" y2="51.46" stroke="#333" stroke-width="0.75" />
<line x1="400.00" y1="51.46" x2="401.60" y2="51.46" stroke="#333" stroke-width="0.75" />
<line x1="266.40" y1="43.84" x2="268.00" y2="43.84" stroke="#333" stroke-width="0.75" />
<line x1="400.00" y1="43.84" x2="401.60" y2="43.84" stroke="#333" stroke-width="0.75" />
<line x1="266.40" y1="37.40" x2="268.00" y2="37.40" stroke="#333" stroke-width="0.75" />
<line x1="400.00" y1="37.40" x2="401.60" y2="37.40" stroke="#333" stroke-width="0.75" />
<line x1="266.40" y1="31.82" x2="268.00" y2="31.82" stroke="#333" stroke-width="0.75" />
<line x1="400.00" y1="31.82" x2="401.60" y2="31.82" stroke="#333" stroke-width="0.75" />
<line x1="266.40" y1="26.90" x2="268.00" y2="26.90" stroke="#333" stroke-width="0.75" />
<line x1="400.00" y1="26.90" x2="401.60" y2="26.90" stroke="#333" stroke-width="0.75" />
<line x1="265.40" y1="22.50" x2="268.00" y2="22.50" stroke="#333" stroke-width="0.75" />
<line x1="400.00" y1="22.50" x2="402.60" y2="22.50" stroke="#333" stroke-width="0.75" />
<text x="249.8" y="24.90" font-size="7.2" fill="#1e1e1e" textLength="8.6" lengthAdjust="spacingAndGlyphs">10</text>
<text x="258.6" y="20.70" font-size="5.4" fill="#1e1e1e" textLength="4.3" lengthAdjust="spacingAndGlyphs">-7</text>
<text x="249.8" y="121.10" font-size="7.2" fill="#1e1e1e" textLength="8.6" lengthAdjust="spacingAndGlyphs">10</text>
<text x="258.6" y="116.90" font-size="5.4" fill="#1e1e1e" textLength="4.3" lengthAdjust="spacingAndGlyphs">-8</text>
<line x1="279.50" y1="2.40" x2="279.50" y2="5.00" stroke="#444" stroke-width="0.55" />
<line x1="279.50" y1="128.00" x2="279.50" y2="130.60" stroke="#444" stroke-width="0.55" />
<text x="283.00" y="137.10" font-size="7.5" text-anchor="end" fill="#1e1e1e" textLength="14.10" lengthAdjust="spacingAndGlyphs" >−10</text>
<line x1="307.00" y1="2.40" x2="307.00" y2="5.00" stroke="#444" stroke-width="0.55" />
<line x1="307.00" y1="128.00" x2="307.00" y2="130.60" stroke="#444" stroke-width="0.55" />
<text x="310.50" y="137.10" font-size="7.5" text-anchor="end" fill="#1e1e1e" textLength="9.60" lengthAdjust="spacingAndGlyphs" >−5</text>
<line x1="334.50" y1="2.40" x2="334.50" y2="5.00" stroke="#444" stroke-width="0.55" />
<line x1="334.50" y1="128.00" x2="334.50" y2="130.60" stroke="#444" stroke-width="0.55" />
<text x="334.50" y="137.10" font-size="7.5" text-anchor="middle" fill="#1e1e1e" >0</text>
<line x1="362.00" y1="2.40" x2="362.00" y2="5.00" stroke="#444" stroke-width="0.55" />
<line x1="362.00" y1="128.00" x2="362.00" y2="130.60" stroke="#444" stroke-width="0.55" />
<text x="362.00" y="137.10" font-size="7.5" text-anchor="middle" fill="#1e1e1e" >5</text>
<line x1="389.50" y1="2.40" x2="389.50" y2="5.00" stroke="#444" stroke-width="0.55" />
<line x1="389.50" y1="128.00" x2="389.50" y2="130.60" stroke="#444" stroke-width="0.55" />
<text x="389.50" y="137.10" font-size="7.5" text-anchor="middle" fill="#1e1e1e" textLength="8.60" lengthAdjust="spacingAndGlyphs" >10</text>
<text x="300.90" y="145.40" font-size="7.3" text-anchor="start" fill="#1e1e1e" textLength="66.90" lengthAdjust="spacingAndGlyphs" >radial position [mm]</text>
<text x="245.80" y="66.00" font-size="7.3" text-anchor="middle" fill="#1e1e1e" textLength="25.70" lengthAdjust="spacingAndGlyphs" transform="rotate(-90 245.80 66.00)" >time [s]</text>
<text x="228.00" y="148.70" font-size="13" text-anchor="start" fill="#111" style='font-family:"Liberation Serif", serif' >b)</text>
<defs><linearGradient id="cbB" x1="0" y1="0" x2="0" y2="1"><stop offset="0.000" stop-color="#8f4a4a"/><stop offset="0.114" stop-color="#e04848"/><stop offset="0.220" stop-color="#f07848"/><stop offset="0.332" stop-color="#f2e25a"/><stop offset="0.441" stop-color="#b8d46a"/><stop offset="0.551" stop-color="#78c09a"/><stop offset="0.661" stop-color="#5ec3e4"/><stop offset="0.778" stop-color="#5a8fcc"/><stop offset="0.889" stop-color="#4d66ae"/><stop offset="1.000" stop-color="#414691"/></linearGradient></defs>
<rect x="408" y="5" width="6.3" height="122.6" fill="url(#cbB)"/>
<line x1="414.30" y1="5.50" x2="416.40" y2="5.50" stroke="#444" stroke-width="0.55" />
<text x="417.6" y="8.50" font-size="7.4" fill="#1e1e1e" textLength="7.5" lengthAdjust="spacingAndGlyphs">10</text>
<text x="425.4" y="4.90" font-size="5.0" fill="#1e1e1e" textLength="3.70" lengthAdjust="spacingAndGlyphs">5</text>
<line x1="414.30" y1="19.05" x2="416.40" y2="19.05" stroke="#444" stroke-width="0.55" />
<text x="417.6" y="22.05" font-size="7.4" fill="#1e1e1e" textLength="7.5" lengthAdjust="spacingAndGlyphs">10</text>
<text x="425.4" y="18.45" font-size="5.0" fill="#1e1e1e" textLength="3.70" lengthAdjust="spacingAndGlyphs">4</text>
<line x1="414.30" y1="32.60" x2="416.40" y2="32.60" stroke="#444" stroke-width="0.55" />
<text x="417.6" y="35.60" font-size="7.4" fill="#1e1e1e" textLength="7.5" lengthAdjust="spacingAndGlyphs">10</text>
<text x="425.4" y="32.00" font-size="5.0" fill="#1e1e1e" textLength="3.70" lengthAdjust="spacingAndGlyphs">3</text>
<line x1="414.30" y1="46.15" x2="416.40" y2="46.15" stroke="#444" stroke-width="0.55" />
<text x="417.6" y="49.15" font-size="7.4" fill="#1e1e1e" textLength="7.5" lengthAdjust="spacingAndGlyphs">10</text>
<text x="425.4" y="45.55" font-size="5.0" fill="#1e1e1e" textLength="3.70" lengthAdjust="spacingAndGlyphs">2</text>
<line x1="414.30" y1="59.70" x2="416.40" y2="59.70" stroke="#444" stroke-width="0.55" />
<text x="417.6" y="62.70" font-size="7.4" fill="#1e1e1e" textLength="7.5" lengthAdjust="spacingAndGlyphs">10</text>
<text x="425.4" y="59.10" font-size="5.0" fill="#1e1e1e" textLength="3.70" lengthAdjust="spacingAndGlyphs">1</text>
<line x1="414.30" y1="73.25" x2="416.40" y2="73.25" stroke="#444" stroke-width="0.55" />
<text x="417.6" y="76.25" font-size="7.4" fill="#1e1e1e" textLength="7.5" lengthAdjust="spacingAndGlyphs">10</text>
<text x="425.4" y="72.65" font-size="5.0" fill="#1e1e1e" textLength="3.70" lengthAdjust="spacingAndGlyphs">0</text>
<line x1="414.30" y1="86.80" x2="416.40" y2="86.80" stroke="#444" stroke-width="0.55" />
<text x="417.6" y="89.80" font-size="7.4" fill="#1e1e1e" textLength="7.5" lengthAdjust="spacingAndGlyphs">10</text>
<text x="425.4" y="86.20" font-size="5.0" fill="#1e1e1e" textLength="5.20" lengthAdjust="spacingAndGlyphs">−1</text>
<line x1="414.30" y1="100.35" x2="416.40" y2="100.35" stroke="#444" stroke-width="0.55" />
<text x="417.6" y="103.35" font-size="7.4" fill="#1e1e1e" textLength="7.5" lengthAdjust="spacingAndGlyphs">10</text>
<text x="425.4" y="99.75" font-size="5.0" fill="#1e1e1e" textLength="5.20" lengthAdjust="spacingAndGlyphs">−2</text>
<line x1="414.30" y1="113.90" x2="416.40" y2="113.90" stroke="#444" stroke-width="0.55" />
<text x="417.6" y="116.90" font-size="7.4" fill="#1e1e1e" textLength="7.5" lengthAdjust="spacingAndGlyphs">10</text>
<text x="425.4" y="113.30" font-size="5.0" fill="#1e1e1e" textLength="5.20" lengthAdjust="spacingAndGlyphs">−3</text>
<line x1="414.30" y1="127.45" x2="416.40" y2="127.45" stroke="#444" stroke-width="0.55" />
<text x="417.6" y="130.45" font-size="7.4" fill="#1e1e1e" textLength="7.5" lengthAdjust="spacingAndGlyphs">10</text>
<text x="425.4" y="126.85" font-size="5.0" fill="#1e1e1e" textLength="5.20" lengthAdjust="spacingAndGlyphs">−4</text>
<text x="441.2" y="66.0" font-size="7.0" fill="#1e1e1e" text-anchor="middle" transform="rotate(-90 441.2 66.0)" textLength="77" lengthAdjust="spacingAndGlyphs">N<tspan font-size="4.8" dy="1.5">2</tspan><tspan font-size="4.8" dy="-4.1">+</tspan><tspan dy="2.6">(B</tspan><tspan font-size="4.8" dy="-2.6">2</tspan><tspan dy="2.6">Σ</tspan><tspan font-size="4.8" dy="1.5">u</tspan><tspan font-size="4.8" dy="-4.1">+</tspan><tspan dy="2.6">, v'=0) [cm</tspan><tspan font-size="4.8" dy="-2.6">−3</tspan><tspan dy="2.6">]</tspan></text>
<rect x="51.5" y="221.5" width="148.10" height="119.90" fill="none" stroke="#777" stroke-width="0.65"/>
<line x1="51.50" y1="341.40" x2="51.50" y2="339.80" stroke="#666" stroke-width="0.55" />
<line x1="51.50" y1="221.50" x2="51.50" y2="223.10" stroke="#666" stroke-width="0.55" />
<line x1="54.46" y1="341.40" x2="54.46" y2="339.80" stroke="#666" stroke-width="0.55" />
<line x1="54.46" y1="221.50" x2="54.46" y2="223.10" stroke="#666" stroke-width="0.55" />
<line x1="57.41" y1="341.40" x2="57.41" y2="339.80" stroke="#666" stroke-width="0.55" />
<line x1="57.41" y1="221.50" x2="57.41" y2="223.10" stroke="#666" stroke-width="0.55" />
<line x1="60.37" y1="341.40" x2="60.37" y2="339.80" stroke="#666" stroke-width="0.55" />
<line x1="60.37" y1="221.50" x2="60.37" y2="223.10" stroke="#666" stroke-width="0.55" />
<line x1="63.32" y1="341.40" x2="63.32" y2="339.80" stroke="#666" stroke-width="0.55" />
<line x1="63.32" y1="221.50" x2="63.32" y2="223.10" stroke="#666" stroke-width="0.55" />
<line x1="66.28" y1="341.40" x2="66.28" y2="339.80" stroke="#666" stroke-width="0.55" />
<line x1="66.28" y1="221.50" x2="66.28" y2="223.10" stroke="#666" stroke-width="0.55" />
<line x1="69.24" y1="341.40" x2="69.24" y2="339.80" stroke="#666" stroke-width="0.55" />
<line x1="69.24" y1="221.50" x2="69.24" y2="223.10" stroke="#666" stroke-width="0.55" />
<line x1="72.19" y1="341.40" x2="72.19" y2="339.80" stroke="#666" stroke-width="0.55" />
<line x1="72.19" y1="221.50" x2="72.19" y2="223.10" stroke="#666" stroke-width="0.55" />
<line x1="75.15" y1="341.40" x2="75.15" y2="339.80" stroke="#666" stroke-width="0.55" />
<line x1="75.15" y1="221.50" x2="75.15" y2="223.10" stroke="#666" stroke-width="0.55" />
<line x1="78.10" y1="341.40" x2="78.10" y2="339.80" stroke="#666" stroke-width="0.55" />
<line x1="78.10" y1="221.50" x2="78.10" y2="223.10" stroke="#666" stroke-width="0.55" />
<line x1="81.06" y1="341.40" x2="81.06" y2="339.80" stroke="#666" stroke-width="0.55" />
<line x1="81.06" y1="221.50" x2="81.06" y2="223.10" stroke="#666" stroke-width="0.55" />
<line x1="84.02" y1="341.40" x2="84.02" y2="339.80" stroke="#666" stroke-width="0.55" />
<line x1="84.02" y1="221.50" x2="84.02" y2="223.10" stroke="#666" stroke-width="0.55" />
<line x1="86.97" y1="341.40" x2="86.97" y2="339.80" stroke="#666" stroke-width="0.55" />
<line x1="86.97" y1="221.50" x2="86.97" y2="223.10" stroke="#666" stroke-width="0.55" />
<line x1="89.93" y1="341.40" x2="89.93" y2="339.80" stroke="#666" stroke-width="0.55" />
<line x1="89.93" y1="221.50" x2="89.93" y2="223.10" stroke="#666" stroke-width="0.55" />
<line x1="92.88" y1="341.40" x2="92.88" y2="339.80" stroke="#666" stroke-width="0.55" />
<line x1="92.88" y1="221.50" x2="92.88" y2="223.10" stroke="#666" stroke-width="0.55" />
<line x1="95.84" y1="341.40" x2="95.84" y2="339.80" stroke="#666" stroke-width="0.55" />
<line x1="95.84" y1="221.50" x2="95.84" y2="223.10" stroke="#666" stroke-width="0.55" />
<line x1="98.80" y1="341.40" x2="98.80" y2="339.80" stroke="#666" stroke-width="0.55" />
<line x1="98.80" y1="221.50" x2="98.80" y2="223.10" stroke="#666" stroke-width="0.55" />
<line x1="101.75" y1="341.40" x2="101.75" y2="339.80" stroke="#666" stroke-width="0.55" />
<line x1="101.75" y1="221.50" x2="101.75" y2="223.10" stroke="#666" stroke-width="0.55" />
<line x1="104.71" y1="341.40" x2="104.71" y2="339.80" stroke="#666" stroke-width="0.55" />
<line x1="104.71" y1="221.50" x2="104.71" y2="223.10" stroke="#666" stroke-width="0.55" />
<line x1="107.66" y1="341.40" x2="107.66" y2="339.80" stroke="#666" stroke-width="0.55" />
<line x1="107.66" y1="221.50" x2="107.66" y2="223.10" stroke="#666" stroke-width="0.55" />
<line x1="110.62" y1="341.40" x2="110.62" y2="339.80" stroke="#666" stroke-width="0.55" />
<line x1="110.62" y1="221.50" x2="110.62" y2="223.10" stroke="#666" stroke-width="0.55" />
<line x1="113.58" y1="341.40" x2="113.58" y2="339.80" stroke="#666" stroke-width="0.55" />
<line x1="113.58" y1="221.50" x2="113.58" y2="223.10" stroke="#666" stroke-width="0.55" />
<line x1="116.53" y1="341.40" x2="116.53" y2="339.80" stroke="#666" stroke-width="0.55" />
<line x1="116.53" y1="221.50" x2="116.53" y2="223.10" stroke="#666" stroke-width="0.55" />
<line x1="119.49" y1="341.40" x2="119.49" y2="339.80" stroke="#666" stroke-width="0.55" />
<line x1="119.49" y1="221.50" x2="119.49" y2="223.10" stroke="#666" stroke-width="0.55" />
<line x1="122.44" y1="341.40" x2="122.44" y2="339.80" stroke="#666" stroke-width="0.55" />
<line x1="122.44" y1="221.50" x2="122.44" y2="223.10" stroke="#666" stroke-width="0.55" />
<line x1="125.40" y1="341.40" x2="125.40" y2="339.80" stroke="#666" stroke-width="0.55" />
<line x1="125.40" y1="221.50" x2="125.40" y2="223.10" stroke="#666" stroke-width="0.55" />
<line x1="128.36" y1="341.40" x2="128.36" y2="339.80" stroke="#666" stroke-width="0.55" />
<line x1="128.36" y1="221.50" x2="128.36" y2="223.10" stroke="#666" stroke-width="0.55" />
<line x1="131.31" y1="341.40" x2="131.31" y2="339.80" stroke="#666" stroke-width="0.55" />
<line x1="131.31" y1="221.50" x2="131.31" y2="223.10" stroke="#666" stroke-width="0.55" />
<line x1="134.27" y1="341.40" x2="134.27" y2="339.80" stroke="#666" stroke-width="0.55" />
<line x1="134.27" y1="221.50" x2="134.27" y2="223.10" stroke="#666" stroke-width="0.55" />
<line x1="137.22" y1="341.40" x2="137.22" y2="339.80" stroke="#666" stroke-width="0.55" />
<line x1="137.22" y1="221.50" x2="137.22" y2="223.10" stroke="#666" stroke-width="0.55" />
<line x1="140.18" y1="341.40" x2="140.18" y2="339.80" stroke="#666" stroke-width="0.55" />
<line x1="140.18" y1="221.50" x2="140.18" y2="223.10" stroke="#666" stroke-width="0.55" />
<line x1="143.14" y1="341.40" x2="143.14" y2="339.80" stroke="#666" stroke-width="0.55" />
<line x1="143.14" y1="221.50" x2="143.14" y2="223.10" stroke="#666" stroke-width="0.55" />
<line x1="146.09" y1="341.40" x2="146.09" y2="339.80" stroke="#666" stroke-width="0.55" />
<line x1="146.09" y1="221.50" x2="146.09" y2="223.10" stroke="#666" stroke-width="0.55" />
<line x1="149.05" y1="341.40" x2="149.05" y2="339.80" stroke="#666" stroke-width="0.55" />
<line x1="149.05" y1="221.50" x2="149.05" y2="223.10" stroke="#666" stroke-width="0.55" />
<line x1="152.00" y1="341.40" x2="152.00" y2="339.80" stroke="#666" stroke-width="0.55" />
<line x1="152.00" y1="221.50" x2="152.00" y2="223.10" stroke="#666" stroke-width="0.55" />
<line x1="154.96" y1="341.40" x2="154.96" y2="339.80" stroke="#666" stroke-width="0.55" />
<line x1="154.96" y1="221.50" x2="154.96" y2="223.10" stroke="#666" stroke-width="0.55" />
<line x1="157.92" y1="341.40" x2="157.92" y2="339.80" stroke="#666" stroke-width="0.55" />
<line x1="157.92" y1="221.50" x2="157.92" y2="223.10" stroke="#666" stroke-width="0.55" />
<line x1="160.87" y1="341.40" x2="160.87" y2="339.80" stroke="#666" stroke-width="0.55" />
<line x1="160.87" y1="221.50" x2="160.87" y2="223.10" stroke="#666" stroke-width="0.55" />
<line x1="163.83" y1="341.40" x2="163.83" y2="339.80" stroke="#666" stroke-width="0.55" />
<line x1="163.83" y1="221.50" x2="163.83" y2="223.10" stroke="#666" stroke-width="0.55" />
<line x1="166.78" y1="341.40" x2="166.78" y2="339.80" stroke="#666" stroke-width="0.55" />
<line x1="166.78" y1="221.50" x2="166.78" y2="223.10" stroke="#666" stroke-width="0.55" />
<line x1="169.74" y1="341.40" x2="169.74" y2="339.80" stroke="#666" stroke-width="0.55" />
<line x1="169.74" y1="221.50" x2="169.74" y2="223.10" stroke="#666" stroke-width="0.55" />
<line x1="172.70" y1="341.40" x2="172.70" y2="339.80" stroke="#666" stroke-width="0.55" />
<line x1="172.70" y1="221.50" x2="172.70" y2="223.10" stroke="#666" stroke-width="0.55" />
<line x1="175.65" y1="341.40" x2="175.65" y2="339.80" stroke="#666" stroke-width="0.55" />
<line x1="175.65" y1="221.50" x2="175.65" y2="223.10" stroke="#666" stroke-width="0.55" />
<line x1="178.61" y1="341.40" x2="178.61" y2="339.80" stroke="#666" stroke-width="0.55" />
<line x1="178.61" y1="221.50" x2="178.61" y2="223.10" stroke="#666" stroke-width="0.55" />
<line x1="181.56" y1="341.40" x2="181.56" y2="339.80" stroke="#666" stroke-width="0.55" />
<line x1="181.56" y1="221.50" x2="181.56" y2="223.10" stroke="#666" stroke-width="0.55" />
<line x1="184.52" y1="341.40" x2="184.52" y2="339.80" stroke="#666" stroke-width="0.55" />
<line x1="184.52" y1="221.50" x2="184.52" y2="223.10" stroke="#666" stroke-width="0.55" />
<line x1="187.48" y1="341.40" x2="187.48" y2="339.80" stroke="#666" stroke-width="0.55" />
<line x1="187.48" y1="221.50" x2="187.48" y2="223.10" stroke="#666" stroke-width="0.55" />
<line x1="190.43" y1="341.40" x2="190.43" y2="339.80" stroke="#666" stroke-width="0.55" />
<line x1="190.43" y1="221.50" x2="190.43" y2="223.10" stroke="#666" stroke-width="0.55" />
<line x1="193.39" y1="341.40" x2="193.39" y2="339.80" stroke="#666" stroke-width="0.55" />
<line x1="193.39" y1="221.50" x2="193.39" y2="223.10" stroke="#666" stroke-width="0.55" />
<line x1="196.34" y1="341.40" x2="196.34" y2="339.80" stroke="#666" stroke-width="0.55" />
<line x1="196.34" y1="221.50" x2="196.34" y2="223.10" stroke="#666" stroke-width="0.55" />
<line x1="199.30" y1="341.40" x2="199.30" y2="339.80" stroke="#666" stroke-width="0.55" />
<line x1="199.30" y1="221.50" x2="199.30" y2="223.10" stroke="#666" stroke-width="0.55" />
<line x1="49.10" y1="341.40" x2="51.50" y2="341.40" stroke="#666" stroke-width="0.55" />
<line x1="50.10" y1="329.71" x2="51.50" y2="329.71" stroke="#666" stroke-width="0.55" />
<line x1="49.10" y1="318.02" x2="51.50" y2="318.02" stroke="#666" stroke-width="0.55" />
<line x1="50.10" y1="306.33" x2="51.50" y2="306.33" stroke="#666" stroke-width="0.55" />
<line x1="49.10" y1="294.64" x2="51.50" y2="294.64" stroke="#666" stroke-width="0.55" />
<line x1="50.10" y1="282.95" x2="51.50" y2="282.95" stroke="#666" stroke-width="0.55" />
<line x1="49.10" y1="271.26" x2="51.50" y2="271.26" stroke="#666" stroke-width="0.55" />
<line x1="50.10" y1="259.57" x2="51.50" y2="259.57" stroke="#666" stroke-width="0.55" />
<line x1="49.10" y1="247.88" x2="51.50" y2="247.88" stroke="#666" stroke-width="0.55" />
<line x1="50.10" y1="236.19" x2="51.50" y2="236.19" stroke="#666" stroke-width="0.55" />
<line x1="49.10" y1="224.50" x2="51.50" y2="224.50" stroke="#666" stroke-width="0.55" />
<line x1="197.60" y1="341.40" x2="200.40" y2="341.40" stroke="#666" stroke-width="0.55" />
<line x1="198.30" y1="337.02" x2="200.40" y2="337.02" stroke="#666" stroke-width="0.55" />
<line x1="198.30" y1="332.64" x2="200.40" y2="332.64" stroke="#666" stroke-width="0.55" />
<line x1="198.30" y1="328.26" x2="200.40" y2="328.26" stroke="#666" stroke-width="0.55" />
<line x1="198.30" y1="323.88" x2="200.40" y2="323.88" stroke="#666" stroke-width="0.55" />
<line x1="197.60" y1="319.50" x2="200.40" y2="319.50" stroke="#666" stroke-width="0.55" />
<line x1="198.30" y1="315.12" x2="200.40" y2="315.12" stroke="#666" stroke-width="0.55" />
<line x1="198.30" y1="310.74" x2="200.40" y2="310.74" stroke="#666" stroke-width="0.55" />
<line x1="198.30" y1="306.36" x2="200.40" y2="306.36" stroke="#666" stroke-width="0.55" />
<line x1="198.30" y1="301.98" x2="200.40" y2="301.98" stroke="#666" stroke-width="0.55" />
<line x1="197.60" y1="297.60" x2="200.40" y2="297.60" stroke="#666" stroke-width="0.55" />
<line x1="198.30" y1="293.22" x2="200.40" y2="293.22" stroke="#666" stroke-width="0.55" />
<line x1="198.30" y1="288.84" x2="200.40" y2="288.84" stroke="#666" stroke-width="0.55" />
<line x1="198.30" y1="284.46" x2="200.40" y2="284.46" stroke="#666" stroke-width="0.55" />
<line x1="198.30" y1="280.08" x2="200.40" y2="280.08" stroke="#666" stroke-width="0.55" />
<line x1="197.60" y1="275.70" x2="200.40" y2="275.70" stroke="#666" stroke-width="0.55" />
<line x1="198.30" y1="271.32" x2="200.40" y2="271.32" stroke="#666" stroke-width="0.55" />
<line x1="198.30" y1="266.94" x2="200.40" y2="266.94" stroke="#666" stroke-width="0.55" />
<line x1="198.30" y1="262.56" x2="200.40" y2="262.56" stroke="#666" stroke-width="0.55" />
<line x1="198.30" y1="258.18" x2="200.40" y2="258.18" stroke="#666" stroke-width="0.55" />
<line x1="197.60" y1="253.80" x2="200.40" y2="253.80" stroke="#666" stroke-width="0.55" />
<line x1="198.30" y1="249.42" x2="200.40" y2="249.42" stroke="#666" stroke-width="0.55" />
<line x1="198.30" y1="245.04" x2="200.40" y2="245.04" stroke="#666" stroke-width="0.55" />
<line x1="198.30" y1="240.66" x2="200.40" y2="240.66" stroke="#666" stroke-width="0.55" />
<line x1="198.30" y1="236.28" x2="200.40" y2="236.28" stroke="#666" stroke-width="0.55" />
<line x1="197.60" y1="231.90" x2="200.40" y2="231.90" stroke="#666" stroke-width="0.55" />
<line x1="198.30" y1="227.52" x2="200.40" y2="227.52" stroke="#666" stroke-width="0.55" />
<line x1="198.30" y1="223.14" x2="200.40" y2="223.14" stroke="#666" stroke-width="0.55" />
<text x="46.50" y="343.80" font-size="6.6" text-anchor="end" fill="#1e1e1e" >0.0</text>
<text x="25.5" y="320.42" font-size="6.6" fill="#1e1e1e" textLength="19.9" lengthAdjust="spacingAndGlyphs">5.0x10</text>
<text x="45.6" y="317.62" font-size="4.3" fill="#1e1e1e">6</text>
<text x="25.5" y="297.04" font-size="6.6" fill="#1e1e1e" textLength="19.9" lengthAdjust="spacingAndGlyphs">1.0x10</text>
<text x="45.6" y="294.24" font-size="4.3" fill="#1e1e1e">7</text>
<text x="25.5" y="273.66" font-size="6.6" fill="#1e1e1e" textLength="19.9" lengthAdjust="spacingAndGlyphs">1.5x10</text>
<text x="45.6" y="270.86" font-size="4.3" fill="#1e1e1e">7</text>
<text x="25.5" y="250.28" font-size="6.6" fill="#1e1e1e" textLength="19.9" lengthAdjust="spacingAndGlyphs">2.0x10</text>
<text x="45.6" y="247.48" font-size="4.3" fill="#1e1e1e">7</text>
<text x="25.5" y="226.90" font-size="6.6" fill="#1e1e1e" textLength="19.9" lengthAdjust="spacingAndGlyphs">2.5x10</text>
<text x="45.6" y="224.10" font-size="4.3" fill="#1e1e1e">7</text>
<text x="51.50" y="350.60" font-size="6.6" text-anchor="middle" fill="#1e1e1e" textLength="7.30" lengthAdjust="spacingAndGlyphs" >20</text>
<text x="81.06" y="350.60" font-size="6.6" text-anchor="middle" fill="#1e1e1e" textLength="7.30" lengthAdjust="spacingAndGlyphs" >30</text>
<text x="110.62" y="350.60" font-size="6.6" text-anchor="middle" fill="#1e1e1e" textLength="7.30" lengthAdjust="spacingAndGlyphs" >40</text>
<text x="140.18" y="350.60" font-size="6.6" text-anchor="middle" fill="#1e1e1e" textLength="7.30" lengthAdjust="spacingAndGlyphs" >50</text>
<text x="169.74" y="350.60" font-size="6.6" text-anchor="middle" fill="#1e1e1e" textLength="7.30" lengthAdjust="spacingAndGlyphs" >60</text>
<text x="199.30" y="350.60" font-size="6.6" text-anchor="middle" fill="#1e1e1e" textLength="7.30" lengthAdjust="spacingAndGlyphs" >70</text>
<text x="113.10" y="361.70" font-size="6.8" text-anchor="start" fill="#1e1e1e" textLength="25.70" lengthAdjust="spacingAndGlyphs" >time [ns]</text>
<text x="202.50" y="343.80" font-size="6.6" text-anchor="start" fill="#1e1e1e" textLength="3.40" lengthAdjust="spacingAndGlyphs" >0</text>
<text x="202.50" y="321.90" font-size="6.6" text-anchor="start" fill="#1e1e1e" textLength="10.50" lengthAdjust="spacingAndGlyphs" >100</text>
<text x="202.50" y="300.00" font-size="6.6" text-anchor="start" fill="#1e1e1e" textLength="10.50" lengthAdjust="spacingAndGlyphs" >200</text>
<text x="202.50" y="278.10" font-size="6.6" text-anchor="start" fill="#1e1e1e" textLength="10.50" lengthAdjust="spacingAndGlyphs" >300</text>
<text x="202.50" y="256.20" font-size="6.6" text-anchor="start" fill="#1e1e1e" textLength="10.50" lengthAdjust="spacingAndGlyphs" >400</text>
<text x="202.50" y="234.30" font-size="6.6" text-anchor="start" fill="#1e1e1e" textLength="10.50" lengthAdjust="spacingAndGlyphs" >500</text>
<text x="21.5" y="337.2" font-size="6.6" fill="#1e1e1e" transform="rotate(-90 21.5 337.2)" textLength="115" lengthAdjust="spacingAndGlyphs">concentrations of radiative states [cm<tspan font-size="4.3" dy="-2.6">-3</tspan><tspan dy="2.6">]</tspan></text>
<text x="218.60" y="257.00" font-size="6.4" text-anchor="start" fill="#1e1e1e" textLength="44.00" lengthAdjust="spacingAndGlyphs" transform="rotate(90 218.60 257.00)" >electric field [Td]</text>
<text x="0.30" y="363.60" font-size="13" text-anchor="start" fill="#111" style='font-family:"Liberation Serif", serif' >c)</text>
<line x1="136.00" y1="228.40" x2="150.30" y2="228.40" stroke="#ee5550" stroke-width="0.75" />
<line x1="136.00" y1="240.20" x2="150.30" y2="240.20" stroke="#70c070" stroke-width="0.75" stroke-dasharray="2.4 1.8"/>
<line x1="136.00" y1="253.00" x2="150.30" y2="253.00" stroke="#a0a0a0" stroke-width="1.7" />
<text x="152.9" y="231.3" font-size="6.8" fill="#1e1e1e" textLength="40" lengthAdjust="spacingAndGlyphs">N<tspan font-size="4.3" dy="1.8">2</tspan><tspan dy="-1.8">(C</tspan><tspan font-size="4.3" dy="-2.8">3</tspan><tspan dy="2.8" style="font-family:'Liberation Serif',serif">Π</tspan><tspan font-size="4.3" dy="1.8">u</tspan><tspan dy="-1.8">, v'=0)</tspan></text>
<text x="152.9" y="243.1" font-size="6.8" fill="#1e1e1e" textLength="43" lengthAdjust="spacingAndGlyphs">N<tspan font-size="4.3" dy="1.8">2</tspan><tspan font-size="4.3" dy="-4.6">+</tspan><tspan dy="2.8">(B</tspan><tspan font-size="4.3" dy="-2.8">2</tspan><tspan dy="2.8" style="font-family:'Liberation Serif',serif">Σ</tspan><tspan font-size="4.3" dy="1.8">u</tspan><tspan font-size="4.3" dy="-4.6">+</tspan><tspan dy="2.8">, v'=0)</tspan></text>
<text x="152.90" y="254.90" font-size="6.8" text-anchor="start" fill="#1e1e1e" textLength="11.30" lengthAdjust="spacingAndGlyphs" >E/N</text>
<path d="M51.50,341.20 L53.65,341.18 L56.72,341.16 L60.31,341.12 L64.00,341.09 L67.37,341.05 L70.00,341.00 L71.84,340.96 L73.22,340.93 L74.28,340.89 L75.17,340.83 L76.02,340.74 L77.00,340.60 L78.06,340.42 L79.07,340.23 L80.06,339.99 L81.04,339.72 L82.01,339.39 L83.00,339.00 L84.01,338.56 L85.04,338.07 L86.06,337.52 L87.07,336.92 L88.06,336.25 L89.00,335.50 L89.90,334.71 L90.77,333.89 L91.61,333.00 L92.42,332.00 L93.22,330.85 L94.00,329.50 L94.77,327.95 L95.53,326.24 L96.26,324.38 L96.97,322.37 L97.66,320.24 L98.30,318.00 L98.91,315.61 L99.50,313.04 L100.06,310.34 L100.59,307.57 L101.07,304.78 L101.50,302.00 L101.87,299.29 L102.18,296.63 L102.45,293.94 L102.70,291.15 L102.94,288.19 L103.20,285.00 L103.47,281.50 L103.74,277.74 L104.01,273.81 L104.28,269.81 L104.54,265.84 L104.80,262.00 L105.06,258.10 L105.33,254.04 L105.59,250.01 L105.84,246.19 L106.08,242.79 L106.30,240.00 L106.50,237.81 L106.67,236.08 L106.84,234.76 L106.99,233.81 L107.14,233.20 L107.30,232.90 L107.45,232.87 L107.59,233.14 L107.73,233.76 L107.87,234.74 L108.03,236.15 L108.20,238.00 L108.39,240.39 L108.58,243.30 L108.79,246.63 L109.01,250.26 L109.24,254.09 L109.50,258.00 L109.78,262.07 L110.09,266.41 L110.42,270.94 L110.75,275.59 L111.08,280.30 L111.40,285.00 L111.71,289.74 L112.01,294.59 L112.32,299.50 L112.62,304.41 L112.91,309.26 L113.20,314.00 L113.50,318.93 L113.81,324.15 L114.11,329.31 L114.39,334.07 L114.63,338.09 L114.80,341.00 L199.60,341.20" fill="none" stroke="#444" stroke-width="0.75"/>
<path d="M51.50,341.10 L56.95,341.11 L64.89,341.13 L74.09,341.14 L83.33,341.14 L91.38,341.10 L97.00,341.00 L99.91,340.90 L101.03,340.83 L100.95,340.71 L100.27,340.50 L99.59,340.11 L99.50,339.50 L99.89,338.67 L100.27,337.69 L100.64,336.53 L101.02,335.20 L101.40,333.70 L101.80,332.00 L102.23,330.09 L102.69,327.96 L103.16,325.66 L103.62,323.20 L104.04,320.64 L104.40,318.00 L104.69,315.31 L104.92,312.56 L105.12,309.69 L105.30,306.67 L105.49,303.45 L105.70,300.00 L105.93,296.24 L106.17,292.19 L106.42,287.94 L106.67,283.59 L106.93,279.25 L107.20,275.00 L107.48,270.78 L107.78,266.48 L108.08,262.19 L108.39,257.96 L108.70,253.88 L109.00,250.00 L109.30,246.22 L109.61,242.47 L109.93,238.86 L110.23,235.50 L110.52,232.51 L110.80,230.00 L111.02,227.98 L111.17,226.34 L111.31,225.07 L111.50,224.16 L111.77,223.57 L112.20,223.30 L112.78,223.45 L113.48,224.05 L114.27,224.99 L115.13,226.13 L116.05,227.34 L117.00,228.50 L117.93,229.56 L118.84,230.62 L119.80,231.75 L120.89,233.04 L122.16,234.56 L123.70,236.40 L125.57,238.66 L127.72,241.29 L130.06,244.16 L132.50,247.12 L134.95,250.05 L137.30,252.80 L139.58,255.40 L141.86,257.95 L144.15,260.47 L146.44,262.95 L148.72,265.39 L151.00,267.80 L153.27,270.17 L155.54,272.51 L157.80,274.82 L160.06,277.09 L162.33,279.31 L164.60,281.50 L166.88,283.66 L169.16,285.81 L171.44,287.91 L173.73,289.96 L176.02,291.93 L178.30,293.80 L180.65,295.59 L183.09,297.33 L185.53,298.99 L187.89,300.55 L190.07,301.99 L192.00,303.30 L193.71,304.49 L195.27,305.57 L196.66,306.54 L197.86,307.38 L198.84,308.07 L199.60,308.60" fill="none" stroke="#ee4a45" stroke-width="0.75"/>
<path d="M104.40,341.10 L104.63,340.88 L104.96,340.58 L105.34,340.22 L105.75,339.82 L106.15,339.41 L106.50,339.00 L106.81,338.57 L107.09,338.08 L107.37,337.58 L107.64,337.10 L107.92,336.66 L108.20,336.30 L108.47,336.02 L108.71,335.79 L108.96,335.61 L109.23,335.47 L109.57,335.37 L110.00,335.30 L110.53,335.28 L111.15,335.32 L111.83,335.39 L112.54,335.49 L113.27,335.60 L114.00,335.70 L114.70,335.79 L115.39,335.89 L116.09,335.99 L116.84,336.10 L117.66,336.24 L118.60,336.40 L119.66,336.60 L120.83,336.82 L122.07,337.07 L123.36,337.32 L124.68,337.57 L126.00,337.80 L127.25,338.01 L128.43,338.21 L129.63,338.41 L130.95,338.60 L132.48,338.80 L134.30,339.00 L136.50,339.22 L139.01,339.46 L141.73,339.69 L144.54,339.92 L147.34,340.13 L150.00,340.30 L152.31,340.43 L154.33,340.53 L156.32,340.61 L158.57,340.68 L161.37,340.74 L165.00,340.80 L170.03,340.87 L176.36,340.93 L183.24,340.98 L189.90,341.03 L195.61,341.07 L199.60,341.10" fill="none" stroke="#70c070" stroke-width="0.8" stroke-dasharray="2.4 1.9"/>
<defs><pattern id="mesh" x="270" y="176.6" width="16" height="2.7" patternUnits="userSpaceOnUse"><rect x="0" y="0" width="16" height="0.75" fill="#c8d0ff" fill-opacity="0.17"/><rect x="2.0" y="0" width="0.8" height="2.7" fill="#c8d0ff" fill-opacity="0.17"/><rect x="6.3" y="0" width="0.8" height="2.7" fill="#c8d0ff" fill-opacity="0.14"/><rect x="9.3" y="0" width="0.8" height="2.7" fill="#c8d0ff" fill-opacity="0.17"/><rect x="12.2" y="0" width="0.8" height="2.7" fill="#c8d0ff" fill-opacity="0.14"/></pattern></defs>
<defs><clipPath id="hm679"><rect x="270.0" y="176.0" width="44.00" height="158.30"/></clipPath></defs><g clip-path="url(#hm679)">
<rect x="270.0" y="176.0" width="44.00" height="158.30" fill="#2a2a88"/>
<path d="M269.0,266.00 Q292.0,266.00 315.0,266.00 V336.3 H269.0Z" fill="#2c2e8e"/>
<path d="M269.0,266.50 Q292.0,266.50 315.0,266.50 V336.3 H269.0Z" fill="#2c2e8e"/>
<path d="M269.0,267.00 Q292.0,267.00 315.0,267.00 V336.3 H269.0Z" fill="#2c2e8e"/>
<path d="M269.0,267.50 Q292.0,267.50 315.0,267.50 V336.3 H269.0Z" fill="#2c2e8e"/>
<path d="M269.0,268.00 Q292.0,268.00 315.0,268.00 V336.3 H269.0Z" fill="#2c2f8f"/>
<path d="M269.0,268.50 Q292.0,268.50 315.0,268.50 V336.3 H269.0Z" fill="#2d3091"/>
<path d="M269.0,269.00 Q292.0,269.00 315.0,269.00 V336.3 H269.0Z" fill="#2d3193"/>
<path d="M269.0,269.50 Q292.0,269.50 315.0,269.50 V336.3 H269.0Z" fill="#2e3295"/>
<path d="M269.0,270.04 Q292.0,269.96 315.0,270.04 V336.3 H269.0Z" fill="#2e3397"/>
<path d="M269.0,270.58 Q292.0,270.42 315.0,270.58 V336.3 H269.0Z" fill="#2e3499"/>
<path d="M269.0,271.12 Q292.0,270.88 315.0,271.12 V336.3 H269.0Z" fill="#2f359b"/>
<path d="M269.0,271.67 Q292.0,271.33 315.0,271.67 V336.3 H269.0Z" fill="#2f369d"/>
<path d="M269.0,272.21 Q292.0,271.79 315.0,272.21 V336.3 H269.0Z" fill="#30379f"/>
<path d="M269.0,272.76 Q292.0,272.24 315.0,272.76 V336.3 H269.0Z" fill="#313ba3"/>
<path d="M269.0,273.30 Q292.0,272.70 315.0,273.30 V336.3 H269.0Z" fill="#3242a8"/>
<path d="M269.0,273.85 Q292.0,273.15 315.0,273.85 V336.3 H269.0Z" fill="#3449ad"/>
<path d="M269.0,274.39 Q292.0,273.61 315.0,274.39 V336.3 H269.0Z" fill="#364fb3"/>
<path d="M269.0,274.94 Q292.0,274.06 315.0,274.94 V336.3 H269.0Z" fill="#3856b8"/>
<path d="M269.0,275.48 Q292.0,274.52 315.0,275.48 V336.3 H269.0Z" fill="#395dbd"/>
<path d="M269.0,276.02 Q292.0,274.98 315.0,276.02 V336.3 H269.0Z" fill="#3c65c3"/>
<path d="M269.0,276.57 Q292.0,275.43 315.0,276.57 V336.3 H269.0Z" fill="#3f70c8"/>
<path d="M269.0,277.11 Q292.0,275.89 315.0,277.11 V336.3 H269.0Z" fill="#427acd"/>
<path d="M269.0,277.66 Q292.0,276.34 315.0,277.66 V336.3 H269.0Z" fill="#4584d2"/>
<path d="M269.0,278.20 Q292.0,276.80 315.0,278.20 V336.3 H269.0Z" fill="#488fd7"/>
<path d="M269.0,278.75 Q292.0,277.25 315.0,278.75 V336.3 H269.0Z" fill="#4b98db"/>
<path d="M269.0,279.29 Q292.0,277.71 315.0,279.29 V336.3 H269.0Z" fill="#4ca1de"/>
<path d="M269.0,279.84 Q292.0,278.16 315.0,279.84 V336.3 H269.0Z" fill="#4daae1"/>
<path d="M269.0,280.38 Q292.0,278.62 315.0,280.38 V336.3 H269.0Z" fill="#4eb3e4"/>
<path d="M269.0,280.92 Q292.0,279.08 315.0,280.92 V336.3 H269.0Z" fill="#4fbce7"/>
<path d="M269.0,281.47 Q292.0,279.53 315.0,281.47 V336.3 H269.0Z" fill="#5dc4d4"/>
<path d="M269.0,282.01 Q292.0,279.99 315.0,282.01 V336.3 H269.0Z" fill="#78ccac"/>
<path d="M269.0,282.56 Q292.0,280.44 315.0,282.56 V336.3 H269.0Z" fill="#93d484"/>
<path d="M269.0,283.10 Q292.0,280.90 315.0,283.10 V336.3 H269.0Z" fill="#add965"/>
<path d="M269.0,283.65 Q292.0,281.35 315.0,283.65 V336.3 H269.0Z" fill="#c8dc50"/>
<path d="M269.0,284.19 Q292.0,281.81 315.0,284.19 V336.3 H269.0Z" fill="#e3df3b"/>
<path d="M269.0,284.74 Q292.0,282.26 315.0,284.74 V336.3 H269.0Z" fill="#f0cf2d"/>
<path d="M269.0,285.28 Q292.0,282.72 315.0,285.28 V336.3 H269.0Z" fill="#f0ae28"/>
<path d="M269.0,285.82 Q292.0,283.18 315.0,285.82 V336.3 H269.0Z" fill="#f08d23"/>
<path d="M269.0,286.37 Q292.0,283.63 315.0,286.37 V336.3 H269.0Z" fill="#ec6b21"/>
<path d="M269.0,286.91 Q292.0,284.09 315.0,286.91 V336.3 H269.0Z" fill="#e84921"/>
<path d="M269.0,287.46 Q292.0,284.54 315.0,287.46 V336.3 H269.0Z" fill="#e32a20"/>
<path d="M269.0,288.00 Q292.0,285.00 315.0,288.00 V336.3 H269.0Z" fill="#d6251d"/>
<path d="M269.0,288.55 Q292.0,285.45 315.0,288.55 V336.3 H269.0Z" fill="#c9201b"/>
<path d="M269.0,289.09 Q292.0,285.91 315.0,289.09 V336.3 H269.0Z" fill="#bc1b19"/>
<path d="M269.0,288.96 Q292.0,287.04 315.0,288.96 V336.3 H269.0Z" fill="#c01d19"/>
<path d="M269.0,288.66 Q292.0,288.34 315.0,288.66 V336.3 H269.0Z" fill="#cc211c"/>
<path d="M269.0,288.36 Q292.0,289.64 315.0,288.36 V336.3 H269.0Z" fill="#d7251e"/>
<path d="M269.0,288.06 Q292.0,290.94 315.0,288.06 V336.3 H269.0Z" fill="#e32a20"/>
<path d="M269.0,288.44 Q292.0,291.56 315.0,288.44 V336.3 H269.0Z" fill="#e74220"/>
<path d="M269.0,288.98 Q292.0,292.02 315.0,288.98 V336.3 H269.0Z" fill="#ea5d21"/>
<path d="M269.0,289.52 Q292.0,292.48 315.0,289.52 V336.3 H269.0Z" fill="#ee7722"/>
<path d="M269.0,290.07 Q292.0,292.93 315.0,290.07 V336.3 H269.0Z" fill="#f09123"/>
<path d="M269.0,290.61 Q292.0,293.39 315.0,290.61 V336.3 H269.0Z" fill="#f0a927"/>
<path d="M269.0,291.16 Q292.0,293.84 315.0,291.16 V336.3 H269.0Z" fill="#f0c12b"/>
<path d="M269.0,291.70 Q292.0,294.30 315.0,291.70 V336.3 H269.0Z" fill="#f0d92f"/>
<path d="M269.0,292.25 Q292.0,294.75 315.0,292.25 V336.3 H269.0Z" fill="#e0de3c"/>
<path d="M269.0,292.79 Q292.0,295.21 315.0,292.79 V336.3 H269.0Z" fill="#cadc4e"/>
<path d="M269.0,293.34 Q292.0,295.66 315.0,293.34 V336.3 H269.0Z" fill="#b4da60"/>
<path d="M269.0,293.88 Q292.0,296.12 315.0,293.88 V336.3 H269.0Z" fill="#9ed773"/>
<path d="M269.0,294.42 Q292.0,296.58 315.0,294.42 V336.3 H269.0Z" fill="#88d195"/>
<path d="M269.0,294.97 Q292.0,297.03 315.0,294.97 V336.3 H269.0Z" fill="#71cab6"/>
<path d="M269.0,295.51 Q292.0,297.49 315.0,295.51 V336.3 H269.0Z" fill="#5bc3d7"/>
<path d="M269.0,296.06 Q292.0,297.94 315.0,296.06 V336.3 H269.0Z" fill="#4fbce7"/>
<path d="M269.0,296.60 Q292.0,298.40 315.0,296.60 V336.3 H269.0Z" fill="#4eb3e4"/>
<path d="M269.0,297.15 Q292.0,298.85 315.0,297.15 V336.3 H269.0Z" fill="#4dabe1"/>
<path d="M269.0,297.69 Q292.0,299.31 315.0,297.69 V336.3 H269.0Z" fill="#4ca2de"/>
<path d="M269.0,298.24 Q292.0,299.76 315.0,298.24 V336.3 H269.0Z" fill="#4b99db"/>
<path d="M269.0,298.78 Q292.0,300.22 315.0,298.78 V336.3 H269.0Z" fill="#4a91d8"/>
<path d="M269.0,299.32 Q292.0,300.68 315.0,299.32 V336.3 H269.0Z" fill="#4789d4"/>
<path d="M269.0,299.87 Q292.0,301.13 315.0,299.87 V336.3 H269.0Z" fill="#4481d0"/>
<path d="M269.0,300.41 Q292.0,301.59 315.0,300.41 V336.3 H269.0Z" fill="#4178cb"/>
<path d="M269.0,300.96 Q292.0,302.04 315.0,300.96 V336.3 H269.0Z" fill="#3e70c7"/>
<path d="M269.0,301.50 Q292.0,302.50 315.0,301.50 V336.3 H269.0Z" fill="#3b68c2"/>
<path d="M269.0,302.05 Q292.0,302.95 315.0,302.05 V336.3 H269.0Z" fill="#3a63bf"/>
<path d="M269.0,302.59 Q292.0,303.41 315.0,302.59 V336.3 H269.0Z" fill="#3961bd"/>
<path d="M269.0,303.14 Q292.0,303.86 315.0,303.14 V336.3 H269.0Z" fill="#385ebc"/>
<path d="M269.0,303.68 Q292.0,304.32 315.0,303.68 V336.3 H269.0Z" fill="#385cba"/>
<path d="M269.0,304.22 Q292.0,304.78 315.0,304.22 V336.3 H269.0Z" fill="#375ab8"/>
<path d="M269.0,304.77 Q292.0,305.23 315.0,304.77 V336.3 H269.0Z" fill="#3658b6"/>
<path d="M269.0,305.31 Q292.0,305.69 315.0,305.31 V336.3 H269.0Z" fill="#3656b4"/>
<path d="M269.0,305.86 Q292.0,306.14 315.0,305.86 V336.3 H269.0Z" fill="#3553b3"/>
<path d="M269.0,306.40 Q292.0,306.60 315.0,306.40 V336.3 H269.0Z" fill="#3451b1"/>
<path d="M269.0,306.95 Q292.0,307.05 315.0,306.95 V336.3 H269.0Z" fill="#3450b0"/>
<path d="M269.0,307.49 Q292.0,307.51 315.0,307.49 V336.3 H269.0Z" fill="#3450b0"/>
<path d="M269.0,308.00 Q292.0,308.00 315.0,308.00 V336.3 H269.0Z" fill="#344faf"/>
<path d="M269.0,308.50 Q292.0,308.50 315.0,308.50 V336.3 H269.0Z" fill="#344faf"/>
<path d="M269.0,309.00 Q292.0,309.00 315.0,309.00 V336.3 H269.0Z" fill="#344faf"/>
<path d="M269.0,309.50 Q292.0,309.50 315.0,309.50 V336.3 H269.0Z" fill="#344eaf"/>
<path d="M269.0,310.00 Q292.0,310.00 315.0,310.00 V336.3 H269.0Z" fill="#344eae"/>
<path d="M269.0,310.50 Q292.0,310.50 315.0,310.50 V336.3 H269.0Z" fill="#334eae"/>
<path d="M269.0,311.00 Q292.0,311.00 315.0,311.00 V336.3 H269.0Z" fill="#334eae"/>
<path d="M269.0,311.50 Q292.0,311.50 315.0,311.50 V336.3 H269.0Z" fill="#334dae"/>
<path d="M269.0,312.00 Q292.0,312.00 315.0,312.00 V336.3 H269.0Z" fill="#334dad"/>
<path d="M269.0,312.50 Q292.0,312.50 315.0,312.50 V336.3 H269.0Z" fill="#334dad"/>
<path d="M269.0,313.00 Q292.0,313.00 315.0,313.00 V336.3 H269.0Z" fill="#334cad"/>
<path d="M269.0,313.50 Q292.0,313.50 315.0,313.50 V336.3 H269.0Z" fill="#334cad"/>
<path d="M269.0,314.00 Q292.0,314.00 315.0,314.00 V336.3 H269.0Z" fill="#334cac"/>
<path d="M269.0,314.50 Q292.0,314.50 315.0,314.50 V336.3 H269.0Z" fill="#334bac"/>
<path d="M269.0,315.00 Q292.0,315.00 315.0,315.00 V336.3 H269.0Z" fill="#334bac"/>
<path d="M269.0,315.50 Q292.0,315.50 315.0,315.50 V336.3 H269.0Z" fill="#334bac"/>
<path d="M269.0,316.00 Q292.0,316.00 315.0,316.00 V336.3 H269.0Z" fill="#334bab"/>
<path d="M269.0,316.50 Q292.0,316.50 315.0,316.50 V336.3 H269.0Z" fill="#334aab"/>
<path d="M269.0,317.00 Q292.0,317.00 315.0,317.00 V336.3 H269.0Z" fill="#324aab"/>
<path d="M269.0,317.50 Q292.0,317.50 315.0,317.50 V336.3 H269.0Z" fill="#324aaa"/>
<path d="M269.0,318.00 Q292.0,318.00 315.0,318.00 V336.3 H269.0Z" fill="#3249aa"/>
<path d="M269.0,318.50 Q292.0,318.50 315.0,318.50 V336.3 H269.0Z" fill="#3249aa"/>
<path d="M269.0,319.00 Q292.0,319.00 315.0,319.00 V336.3 H269.0Z" fill="#3249aa"/>
<path d="M269.0,319.50 Q292.0,319.50 315.0,319.50 V336.3 H269.0Z" fill="#3249a9"/>
<path d="M269.0,320.00 Q292.0,320.00 315.0,320.00 V336.3 H269.0Z" fill="#3248a9"/>
<path d="M269.0,320.50 Q292.0,320.50 315.0,320.50 V336.3 H269.0Z" fill="#3248a9"/>
<path d="M269.0,321.00 Q292.0,321.00 315.0,321.00 V336.3 H269.0Z" fill="#3248a9"/>
<path d="M269.0,321.50 Q292.0,321.50 315.0,321.50 V336.3 H269.0Z" fill="#3247a8"/>
<path d="M269.0,322.00 Q292.0,322.00 315.0,322.00 V336.3 H269.0Z" fill="#3247a8"/>
<path d="M269.0,322.50 Q292.0,322.50 315.0,322.50 V336.3 H269.0Z" fill="#3247a8"/>
<path d="M269.0,323.00 Q292.0,323.00 315.0,323.00 V336.3 H269.0Z" fill="#3246a8"/>
<path d="M269.0,323.50 Q292.0,323.50 315.0,323.50 V336.3 H269.0Z" fill="#3246a7"/>
<path d="M269.0,324.00 Q292.0,324.00 315.0,324.00 V336.3 H269.0Z" fill="#3146a7"/>
<path d="M269.0,324.50 Q292.0,324.50 315.0,324.50 V336.3 H269.0Z" fill="#3146a7"/>
<path d="M269.0,325.00 Q292.0,325.00 315.0,325.00 V336.3 H269.0Z" fill="#3145a7"/>
<path d="M269.0,325.50 Q292.0,325.50 315.0,325.50 V336.3 H269.0Z" fill="#3145a6"/>
<path d="M269.0,326.00 Q292.0,326.00 315.0,326.00 V336.3 H269.0Z" fill="#3145a6"/>
<path d="M269.0,326.50 Q292.0,326.50 315.0,326.50 V336.3 H269.0Z" fill="#3144a6"/>
<path d="M269.0,327.00 Q292.0,327.00 315.0,327.00 V336.3 H269.0Z" fill="#3144a6"/>
<path d="M269.0,327.50 Q292.0,327.50 315.0,327.50 V336.3 H269.0Z" fill="#3144a5"/>
<path d="M269.0,328.00 Q292.0,328.00 315.0,328.00 V336.3 H269.0Z" fill="#3144a5"/>
<path d="M269.0,328.50 Q292.0,328.50 315.0,328.50 V336.3 H269.0Z" fill="#3143a5"/>
<path d="M269.0,329.00 Q292.0,329.00 315.0,329.00 V336.3 H269.0Z" fill="#3143a5"/>
<path d="M269.0,329.50 Q292.0,329.50 315.0,329.50 V336.3 H269.0Z" fill="#3143a4"/>
<path d="M269.0,330.00 Q292.0,330.00 315.0,330.00 V336.3 H269.0Z" fill="#3142a4"/>
<path d="M269.0,330.50 Q292.0,330.50 315.0,330.50 V336.3 H269.0Z" fill="#3142a4"/>
<path d="M269.0,331.00 Q292.0,331.00 315.0,331.00 V336.3 H269.0Z" fill="#3042a4"/>
<path d="M269.0,331.50 Q292.0,331.50 315.0,331.50 V336.3 H269.0Z" fill="#3041a3"/>
<path d="M269.0,332.00 Q292.0,332.00 315.0,332.00 V336.3 H269.0Z" fill="#3041a3"/>
<path d="M269.0,332.50 Q292.0,332.50 315.0,332.50 V336.3 H269.0Z" fill="#3041a3"/>
<path d="M269.0,333.00 Q292.0,333.00 315.0,333.00 V336.3 H269.0Z" fill="#3041a3"/>
<path d="M269.0,333.50 Q292.0,333.50 315.0,333.50 V336.3 H269.0Z" fill="#3040a2"/>
<path d="M269.0,334.00 Q292.0,334.00 315.0,334.00 V336.3 H269.0Z" fill="#3040a2"/>
</g>
<defs><radialGradient id="gDLc" cx="0.5" cy="0.5" r="0.5"><stop offset="0" stop-color="#700c10" stop-opacity="0.8"/><stop offset="1" stop-color="#700c10" stop-opacity="0"/></radialGradient></defs>
<ellipse cx="292.0" cy="288.0" rx="13" ry="2.0" fill="url(#gDLc)"/>
<rect x="270.0" y="176.0" width="44.00" height="158.30" fill="url(#mesh)"/>
<defs><filter id="blurR" x="-20%" y="-20%" width="140%" height="140%"><feGaussianBlur stdDeviation="1.9"/></filter><filter id="blurR2" x="-20%" y="-20%" width="140%" height="140%"><feGaussianBlur stdDeviation="3.5"/></filter><clipPath id="cR"><rect x="376" y="176.2" width="43.8" height="158.1"/></clipPath></defs>
<rect x="376.0" y="176.0" width="43.80" height="158.30" fill="#3848a4"/>
<defs><clipPath id="cR2"><rect x="376" y="176.2" width="43.8" height="116"/></clipPath><linearGradient id="gRb" x1="0" y1="0" x2="0" y2="1"><stop offset="0" stop-color="#2c2e8c" stop-opacity="0"/><stop offset="0.35" stop-color="#3a5ab8" stop-opacity="0.75"/><stop offset="1" stop-color="#2c2e8c"/></linearGradient></defs>
<g clip-path="url(#cR2)">
<g filter="url(#blurR2)">
<path d="M357.50,380.78 Q397.50,25.22 437.50,380.78Z" fill="#3a56b4"/>
</g><g filter="url(#blurR)">
<path d="M357.50,387.49 Q397.50,54.51 437.50,387.49Z" fill="#4686d2"/>
<path d="M357.50,356.46 Q397.50,109.54 437.50,356.46Z" fill="#4ebfe8"/>
</g>
<rect x="370" y="289.6" width="60" height="2.0" fill="#4ebfe8"/>
<defs><filter id="blurR3" x="-30%" y="-30%" width="160%" height="160%"><feGaussianBlur stdDeviation="1.3"/></filter></defs>
<g filter="url(#blurR)">
<path d="M380.50,279.11 Q397.50,214.89 414.50,279.11Z" fill="#9ed27a"/>
<rect x="380.5" y="277" width="34" height="12.5" rx="5" fill="#9ed27a"/>
</g><g filter="url(#blurR3)">
<path d="M384.50,280.00 V279.00 C390.35,256.33 404.65,256.33 410.50,279.00 V280.00Z" fill="#eede30"/>
<rect x="384.5" y="272" width="26" height="16.5" rx="8" ry="6" fill="#eede30"/>
<rect x="386.3" y="270.8" width="22.4" height="16.8" rx="8" ry="6.5" fill="#f28a22"/>
<rect x="388.8" y="273.8" width="17.4" height="11.6" rx="6.5" ry="5" fill="#e4281e"/>
<ellipse cx="397.5" cy="280.5" rx="6" ry="3.5" fill="#d42018"/>
</g></g>
<rect x="376" y="290.6" width="43.8" height="3.2" fill="url(#gRb)"/>
<rect x="376" y="293.7" width="43.8" height="40.6" fill="#2c2e8c"/>
<rect x="376.0" y="176.0" width="43.80" height="158.30" fill="url(#mesh)"/>
<defs><linearGradient id="jet" x1="0" y1="1" x2="0" y2="0"><stop offset="0" stop-color="#2a2a8a"/><stop offset="0.1" stop-color="#3040b0"/><stop offset="0.2" stop-color="#3a70d0"/><stop offset="0.3" stop-color="#48b8e8"/><stop offset="0.4" stop-color="#70c8c0"/><stop offset="0.5" stop-color="#b0d878"/><stop offset="0.6" stop-color="#e8e030"/><stop offset="0.72" stop-color="#f08a28"/><stop offset="0.85" stop-color="#e83424"/><stop offset="1" stop-color="#8a2420"/></linearGradient></defs>
<rect x="318.0" y="176.0" width="3.3" height="158.30" fill="url(#jet)" stroke="#334" stroke-width="0.3"/>
<rect x="424.1" y="176.0" width="3.3" height="158.30" fill="url(#jet)" stroke="#334" stroke-width="0.3"/>
<line x1="318.00" y1="334.30" x2="319.20" y2="334.30" stroke="#222" stroke-width="0.5" />
<line x1="320.10" y1="334.30" x2="321.30" y2="334.30" stroke="#222" stroke-width="0.5" />
<text x="327.60" y="337.20" font-size="7.0" text-anchor="start" fill="#1e1e1e" textLength="4.30" lengthAdjust="spacingAndGlyphs" >0</text>
<line x1="318.00" y1="318.49" x2="319.20" y2="318.49" stroke="#222" stroke-width="0.5" />
<line x1="320.10" y1="318.49" x2="321.30" y2="318.49" stroke="#222" stroke-width="0.5" />
<text x="327.60" y="321.39" font-size="7.0" text-anchor="start" fill="#1e1e1e" textLength="8.60" lengthAdjust="spacingAndGlyphs" >50</text>
<line x1="318.00" y1="302.68" x2="319.20" y2="302.68" stroke="#222" stroke-width="0.5" />
<line x1="320.10" y1="302.68" x2="321.30" y2="302.68" stroke="#222" stroke-width="0.5" />
<text x="327.60" y="305.58" font-size="7.0" text-anchor="start" fill="#1e1e1e" textLength="12.90" lengthAdjust="spacingAndGlyphs" >100</text>
<line x1="318.00" y1="286.87" x2="319.20" y2="286.87" stroke="#222" stroke-width="0.5" />
<line x1="320.10" y1="286.87" x2="321.30" y2="286.87" stroke="#222" stroke-width="0.5" />
<text x="327.60" y="289.77" font-size="7.0" text-anchor="start" fill="#1e1e1e" textLength="12.90" lengthAdjust="spacingAndGlyphs" >150</text>
<line x1="318.00" y1="271.06" x2="319.20" y2="271.06" stroke="#222" stroke-width="0.5" />
<line x1="320.10" y1="271.06" x2="321.30" y2="271.06" stroke="#222" stroke-width="0.5" />
<text x="327.60" y="273.96" font-size="7.0" text-anchor="start" fill="#1e1e1e" textLength="12.90" lengthAdjust="spacingAndGlyphs" >200</text>
<line x1="318.00" y1="255.25" x2="319.20" y2="255.25" stroke="#222" stroke-width="0.5" />
<line x1="320.10" y1="255.25" x2="321.30" y2="255.25" stroke="#222" stroke-width="0.5" />
<text x="327.60" y="258.15" font-size="7.0" text-anchor="start" fill="#1e1e1e" textLength="12.90" lengthAdjust="spacingAndGlyphs" >250</text>
<line x1="318.00" y1="239.44" x2="319.20" y2="239.44" stroke="#222" stroke-width="0.5" />
<line x1="320.10" y1="239.44" x2="321.30" y2="239.44" stroke="#222" stroke-width="0.5" />
<text x="327.60" y="242.34" font-size="7.0" text-anchor="start" fill="#1e1e1e" textLength="12.90" lengthAdjust="spacingAndGlyphs" >300</text>
<line x1="318.00" y1="223.63" x2="319.20" y2="223.63" stroke="#222" stroke-width="0.5" />
<line x1="320.10" y1="223.63" x2="321.30" y2="223.63" stroke="#222" stroke-width="0.5" />
<text x="327.60" y="226.53" font-size="7.0" text-anchor="start" fill="#1e1e1e" textLength="12.90" lengthAdjust="spacingAndGlyphs" >350</text>
<line x1="318.00" y1="207.82" x2="319.20" y2="207.82" stroke="#222" stroke-width="0.5" />
<line x1="320.10" y1="207.82" x2="321.30" y2="207.82" stroke="#222" stroke-width="0.5" />
<text x="327.60" y="210.72" font-size="7.0" text-anchor="start" fill="#1e1e1e" textLength="12.90" lengthAdjust="spacingAndGlyphs" >400</text>
<line x1="318.00" y1="192.01" x2="319.20" y2="192.01" stroke="#222" stroke-width="0.5" />
<line x1="320.10" y1="192.01" x2="321.30" y2="192.01" stroke="#222" stroke-width="0.5" />
<text x="327.60" y="194.91" font-size="7.0" text-anchor="start" fill="#1e1e1e" textLength="12.90" lengthAdjust="spacingAndGlyphs" >450</text>
<line x1="318.00" y1="176.20" x2="319.20" y2="176.20" stroke="#222" stroke-width="0.5" />
<line x1="320.10" y1="176.20" x2="321.30" y2="176.20" stroke="#222" stroke-width="0.5" />
<text x="327.60" y="179.10" font-size="7.0" text-anchor="start" fill="#1e1e1e" textLength="12.90" lengthAdjust="spacingAndGlyphs" >500</text>
<line x1="424.10" y1="334.30" x2="425.30" y2="334.30" stroke="#222" stroke-width="0.5" />
<line x1="426.20" y1="334.30" x2="427.40" y2="334.30" stroke="#222" stroke-width="0.5" />
<text x="433.40" y="337.10" font-size="7.0" text-anchor="start" fill="#1e1e1e" textLength="4.00" lengthAdjust="spacingAndGlyphs" >0</text>
<line x1="424.10" y1="314.54" x2="425.30" y2="314.54" stroke="#222" stroke-width="0.5" />
<line x1="426.20" y1="314.54" x2="427.40" y2="314.54" stroke="#222" stroke-width="0.5" />
<text x="433.40" y="317.34" font-size="7.0" text-anchor="start" fill="#1e1e1e" textLength="10.30" lengthAdjust="spacingAndGlyphs" >0.2</text>
<line x1="424.10" y1="294.78" x2="425.30" y2="294.78" stroke="#222" stroke-width="0.5" />
<line x1="426.20" y1="294.78" x2="427.40" y2="294.78" stroke="#222" stroke-width="0.5" />
<text x="433.40" y="297.58" font-size="7.0" text-anchor="start" fill="#1e1e1e" textLength="10.30" lengthAdjust="spacingAndGlyphs" >0.4</text>
<line x1="424.10" y1="275.02" x2="425.30" y2="275.02" stroke="#222" stroke-width="0.5" />
<line x1="426.20" y1="275.02" x2="427.40" y2="275.02" stroke="#222" stroke-width="0.5" />
<text x="433.40" y="277.82" font-size="7.0" text-anchor="start" fill="#1e1e1e" textLength="10.30" lengthAdjust="spacingAndGlyphs" >0.6</text>
<line x1="424.10" y1="255.26" x2="425.30" y2="255.26" stroke="#222" stroke-width="0.5" />
<line x1="426.20" y1="255.26" x2="427.40" y2="255.26" stroke="#222" stroke-width="0.5" />
<text x="433.40" y="258.06" font-size="7.0" text-anchor="start" fill="#1e1e1e" textLength="10.30" lengthAdjust="spacingAndGlyphs" >0.8</text>
<line x1="424.10" y1="235.50" x2="425.30" y2="235.50" stroke="#222" stroke-width="0.5" />
<line x1="426.20" y1="235.50" x2="427.40" y2="235.50" stroke="#222" stroke-width="0.5" />
<text x="433.40" y="238.30" font-size="7.0" text-anchor="start" fill="#1e1e1e" textLength="4.00" lengthAdjust="spacingAndGlyphs" >1</text>
<line x1="424.10" y1="215.74" x2="425.30" y2="215.74" stroke="#222" stroke-width="0.5" />
<line x1="426.20" y1="215.74" x2="427.40" y2="215.74" stroke="#222" stroke-width="0.5" />
<text x="433.40" y="218.54" font-size="7.0" text-anchor="start" fill="#1e1e1e" textLength="10.30" lengthAdjust="spacingAndGlyphs" >1.2</text>
<line x1="424.10" y1="195.98" x2="425.30" y2="195.98" stroke="#222" stroke-width="0.5" />
<line x1="426.20" y1="195.98" x2="427.40" y2="195.98" stroke="#222" stroke-width="0.5" />
<text x="433.40" y="198.78" font-size="7.0" text-anchor="start" fill="#1e1e1e" textLength="10.30" lengthAdjust="spacingAndGlyphs" >1.4</text>
<line x1="424.10" y1="176.22" x2="425.30" y2="176.22" stroke="#222" stroke-width="0.5" />
<line x1="426.20" y1="176.22" x2="427.40" y2="176.22" stroke="#222" stroke-width="0.5" />
<text x="433.40" y="179.02" font-size="7.0" text-anchor="start" fill="#1e1e1e" textLength="10.30" lengthAdjust="spacingAndGlyphs" >1.6</text>
<line x1="267.00" y1="334.30" x2="270.00" y2="334.30" stroke="#444" stroke-width="0.5" />
<text x="262.20" y="336.80" font-size="7.0" text-anchor="end" fill="#1e1e1e" textLength="8.60" lengthAdjust="spacingAndGlyphs" >30</text>
<line x1="267.00" y1="307.95" x2="270.00" y2="307.95" stroke="#444" stroke-width="0.5" />
<text x="262.20" y="310.45" font-size="7.0" text-anchor="end" fill="#1e1e1e" textLength="8.60" lengthAdjust="spacingAndGlyphs" >35</text>
<line x1="267.00" y1="281.60" x2="270.00" y2="281.60" stroke="#444" stroke-width="0.5" />
<text x="262.20" y="284.10" font-size="7.0" text-anchor="end" fill="#1e1e1e" textLength="8.60" lengthAdjust="spacingAndGlyphs" >40</text>
<line x1="267.00" y1="255.25" x2="270.00" y2="255.25" stroke="#444" stroke-width="0.5" />
<text x="262.20" y="257.75" font-size="7.0" text-anchor="end" fill="#1e1e1e" textLength="8.60" lengthAdjust="spacingAndGlyphs" >45</text>
<line x1="267.00" y1="228.90" x2="270.00" y2="228.90" stroke="#444" stroke-width="0.5" />
<text x="262.20" y="231.40" font-size="7.0" text-anchor="end" fill="#1e1e1e" textLength="8.60" lengthAdjust="spacingAndGlyphs" >50</text>
<line x1="267.00" y1="202.55" x2="270.00" y2="202.55" stroke="#444" stroke-width="0.5" />
<text x="262.20" y="205.05" font-size="7.0" text-anchor="end" fill="#1e1e1e" textLength="8.60" lengthAdjust="spacingAndGlyphs" >55</text>
<line x1="267.00" y1="176.20" x2="270.00" y2="176.20" stroke="#444" stroke-width="0.5" />
<text x="262.20" y="178.70" font-size="7.0" text-anchor="end" fill="#1e1e1e" textLength="8.60" lengthAdjust="spacingAndGlyphs" >60</text>
<line x1="273.90" y1="173.40" x2="273.90" y2="176.00" stroke="#444" stroke-width="0.5" />
<line x1="273.90" y1="334.30" x2="273.90" y2="336.90" stroke="#444" stroke-width="0.5" />
<line x1="283.10" y1="173.40" x2="283.10" y2="176.00" stroke="#444" stroke-width="0.5" />
<line x1="283.10" y1="334.30" x2="283.10" y2="336.90" stroke="#444" stroke-width="0.5" />
<line x1="292.30" y1="173.40" x2="292.30" y2="176.00" stroke="#444" stroke-width="0.5" />
<line x1="292.30" y1="334.30" x2="292.30" y2="336.90" stroke="#444" stroke-width="0.5" />
<line x1="301.50" y1="173.40" x2="301.50" y2="176.00" stroke="#444" stroke-width="0.5" />
<line x1="301.50" y1="334.30" x2="301.50" y2="336.90" stroke="#444" stroke-width="0.5" />
<line x1="310.70" y1="173.40" x2="310.70" y2="176.00" stroke="#444" stroke-width="0.5" />
<line x1="310.70" y1="334.30" x2="310.70" y2="336.90" stroke="#444" stroke-width="0.5" />
<text x="268.00" y="348.10" font-size="7.0" text-anchor="start" fill="#1e1e1e" textLength="18.00" lengthAdjust="spacingAndGlyphs" >-10-5</text>
<text x="293.20" y="348.10" font-size="7.0" text-anchor="middle" fill="#1e1e1e" >0</text>
<text x="302.20" y="348.10" font-size="7.0" text-anchor="middle" fill="#1e1e1e" >5</text>
<text x="307.90" y="348.10" font-size="7.0" text-anchor="start" fill="#1e1e1e" textLength="7.70" lengthAdjust="spacingAndGlyphs" >10</text>
<text x="256.00" y="360.00" font-size="7.0" text-anchor="start" fill="#1e1e1e" textLength="72.30" lengthAdjust="spacingAndGlyphs" >radial position [mm]</text>
<text x="251.50" y="255.30" font-size="7.0" text-anchor="middle" fill="#1e1e1e" textLength="31.60" lengthAdjust="spacingAndGlyphs" transform="rotate(-90 251.50 255.30)" >time [ns]</text>
<line x1="373.00" y1="334.30" x2="376.00" y2="334.30" stroke="#444" stroke-width="0.5" />
<text x="368.20" y="336.80" font-size="7.0" text-anchor="end" fill="#1e1e1e" textLength="8.60" lengthAdjust="spacingAndGlyphs" >30</text>
<line x1="373.00" y1="307.95" x2="376.00" y2="307.95" stroke="#444" stroke-width="0.5" />
<text x="368.20" y="310.45" font-size="7.0" text-anchor="end" fill="#1e1e1e" textLength="8.60" lengthAdjust="spacingAndGlyphs" >35</text>
<line x1="373.00" y1="281.60" x2="376.00" y2="281.60" stroke="#444" stroke-width="0.5" />
<text x="368.20" y="284.10" font-size="7.0" text-anchor="end" fill="#1e1e1e" textLength="8.60" lengthAdjust="spacingAndGlyphs" >40</text>
<line x1="373.00" y1="255.25" x2="376.00" y2="255.25" stroke="#444" stroke-width="0.5" />
<text x="368.20" y="257.75" font-size="7.0" text-anchor="end" fill="#1e1e1e" textLength="8.60" lengthAdjust="spacingAndGlyphs" >45</text>
<line x1="373.00" y1="228.90" x2="376.00" y2="228.90" stroke="#444" stroke-width="0.5" />
<text x="368.20" y="231.40" font-size="7.0" text-anchor="end" fill="#1e1e1e" textLength="8.60" lengthAdjust="spacingAndGlyphs" >50</text>
<line x1="373.00" y1="202.55" x2="376.00" y2="202.55" stroke="#444" stroke-width="0.5" />
<text x="368.20" y="205.05" font-size="7.0" text-anchor="end" fill="#1e1e1e" textLength="8.60" lengthAdjust="spacingAndGlyphs" >55</text>
<line x1="373.00" y1="176.20" x2="376.00" y2="176.20" stroke="#444" stroke-width="0.5" />
<text x="368.20" y="178.70" font-size="7.0" text-anchor="end" fill="#1e1e1e" textLength="8.60" lengthAdjust="spacingAndGlyphs" >60</text>
<line x1="379.70" y1="173.40" x2="379.70" y2="176.00" stroke="#444" stroke-width="0.5" />
<line x1="379.70" y1="334.30" x2="379.70" y2="336.90" stroke="#444" stroke-width="0.5" />
<line x1="388.90" y1="173.40" x2="388.90" y2="176.00" stroke="#444" stroke-width="0.5" />
<line x1="388.90" y1="334.30" x2="388.90" y2="336.90" stroke="#444" stroke-width="0.5" />
<line x1="398.10" y1="173.40" x2="398.10" y2="176.00" stroke="#444" stroke-width="0.5" />
<line x1="398.10" y1="334.30" x2="398.10" y2="336.90" stroke="#444" stroke-width="0.5" />
<line x1="407.30" y1="173.40" x2="407.30" y2="176.00" stroke="#444" stroke-width="0.5" />
<line x1="407.30" y1="334.30" x2="407.30" y2="336.90" stroke="#444" stroke-width="0.5" />
<line x1="416.50" y1="173.40" x2="416.50" y2="176.00" stroke="#444" stroke-width="0.5" />
<line x1="416.50" y1="334.30" x2="416.50" y2="336.90" stroke="#444" stroke-width="0.5" />
<text x="373.80" y="348.10" font-size="7.0" text-anchor="start" fill="#1e1e1e" textLength="18.00" lengthAdjust="spacingAndGlyphs" >-10-5</text>
<text x="399.00" y="348.10" font-size="7.0" text-anchor="middle" fill="#1e1e1e" >0</text>
<text x="408.00" y="348.10" font-size="7.0" text-anchor="middle" fill="#1e1e1e" >5</text>
<text x="413.70" y="348.10" font-size="7.0" text-anchor="start" fill="#1e1e1e" textLength="7.70" lengthAdjust="spacingAndGlyphs" >10</text>
<text x="361.80" y="360.00" font-size="7.0" text-anchor="start" fill="#1e1e1e" textLength="72.30" lengthAdjust="spacingAndGlyphs" >radial position [mm]</text>
<text x="357.50" y="255.30" font-size="7.0" text-anchor="middle" fill="#1e1e1e" textLength="31.60" lengthAdjust="spacingAndGlyphs" transform="rotate(-90 357.50 255.30)" >time [ns]</text>
<text x="262.20" y="166.70" font-size="7.0" text-anchor="start" fill="#1e1e1e" textLength="59.70" lengthAdjust="spacingAndGlyphs" >Electric field [Td]</text>
<text x="351.9" y="167.4" font-size="7.0" fill="#1e1e1e" textLength="92" lengthAdjust="spacingAndGlyphs">N<tspan font-size="4.8" dy="1.6" dx="0.2">2</tspan><tspan font-size="4.8" dy="-4.4" dx="-2.8">+</tspan><tspan dy="2.8" dx="0.3">(B</tspan><tspan font-size="4.8" dy="-2.6">2</tspan><tspan dy="2.6">Σ</tspan><tspan font-size="4.8" dy="1.6">u</tspan><tspan font-size="4.8" dy="-4.4" dx="-2.8">+</tspan><tspan dy="2.8">, v'=0) [10</tspan><tspan font-size="4.8" dy="-2.6">6</tspan><tspan dy="2.6"> cm</tspan><tspan font-size="4.8" dy="-2.6">−3</tspan><tspan dy="2.6">]</tspan></text>
<text x="228.20" y="363.60" font-size="13" text-anchor="start" fill="#111" style='font-family:"Liberation Serif", serif' >d)</text>
</svg></body></html>
